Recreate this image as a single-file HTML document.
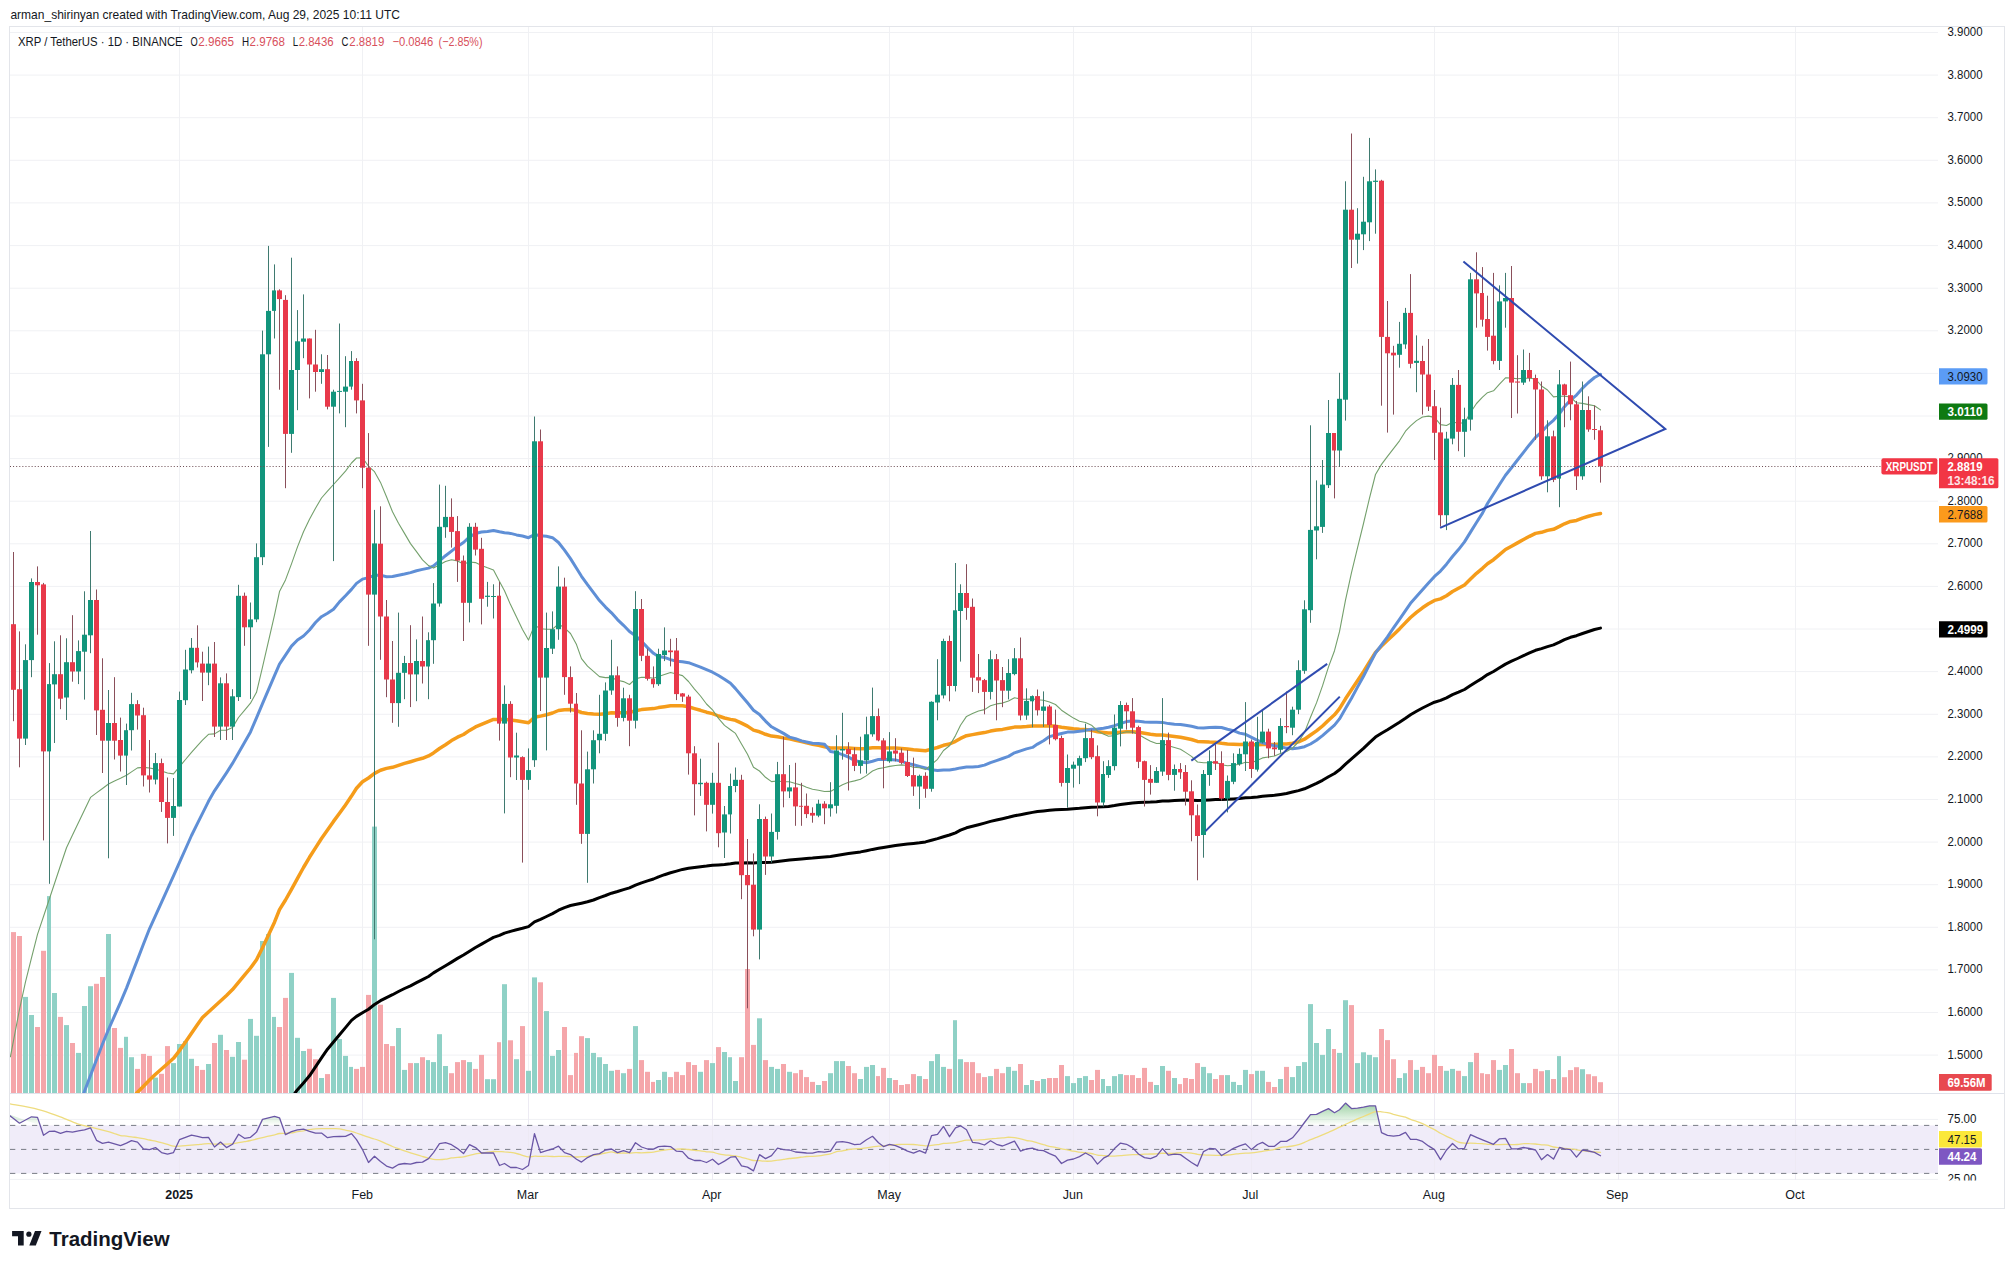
<!DOCTYPE html>
<html><head><meta charset="utf-8"><style>
html,body{margin:0;padding:0;background:#ffffff;}
body{width:2014px;height:1269px;position:relative;overflow:hidden;font-family:"Liberation Sans",sans-serif;}
</style></head><body>
<svg width="2014" height="1269" viewBox="0 0 2014 1269" style="position:absolute;left:0;top:0"><defs><clipPath id="mainclip"><rect x="10" y="27" width="1928" height="1066.5"/></clipPath><clipPath id="rsiclip"><rect x="10" y="1094" width="1928" height="86"/></clipPath><clipPath id="rsiax"><rect x="1938" y="1094" width="66" height="86.5"/></clipPath><linearGradient id="obg" gradientUnits="userSpaceOnUse" x1="0" y1="1089.4" x2="0" y2="1125.4"><stop offset="0" stop-color="#3f9f55" stop-opacity="0.85"/><stop offset="1" stop-color="#4caf50" stop-opacity="0"/></linearGradient></defs><line x1="10" x2="1938" y1="32.5" y2="32.5" stroke="#f0f1f4" stroke-width="1"/><line x1="10" x2="1938" y1="75.1" y2="75.1" stroke="#f0f1f4" stroke-width="1"/><line x1="10" x2="1938" y1="117.7" y2="117.7" stroke="#f0f1f4" stroke-width="1"/><line x1="10" x2="1938" y1="160.3" y2="160.3" stroke="#f0f1f4" stroke-width="1"/><line x1="10" x2="1938" y1="202.9" y2="202.9" stroke="#f0f1f4" stroke-width="1"/><line x1="10" x2="1938" y1="245.6" y2="245.6" stroke="#f0f1f4" stroke-width="1"/><line x1="10" x2="1938" y1="288.2" y2="288.2" stroke="#f0f1f4" stroke-width="1"/><line x1="10" x2="1938" y1="330.8" y2="330.8" stroke="#f0f1f4" stroke-width="1"/><line x1="10" x2="1938" y1="373.4" y2="373.4" stroke="#f0f1f4" stroke-width="1"/><line x1="10" x2="1938" y1="416.0" y2="416.0" stroke="#f0f1f4" stroke-width="1"/><line x1="10" x2="1938" y1="458.6" y2="458.6" stroke="#f0f1f4" stroke-width="1"/><line x1="10" x2="1938" y1="501.2" y2="501.2" stroke="#f0f1f4" stroke-width="1"/><line x1="10" x2="1938" y1="543.8" y2="543.8" stroke="#f0f1f4" stroke-width="1"/><line x1="10" x2="1938" y1="586.4" y2="586.4" stroke="#f0f1f4" stroke-width="1"/><line x1="10" x2="1938" y1="629.0" y2="629.0" stroke="#f0f1f4" stroke-width="1"/><line x1="10" x2="1938" y1="671.6" y2="671.6" stroke="#f0f1f4" stroke-width="1"/><line x1="10" x2="1938" y1="714.3" y2="714.3" stroke="#f0f1f4" stroke-width="1"/><line x1="10" x2="1938" y1="756.9" y2="756.9" stroke="#f0f1f4" stroke-width="1"/><line x1="10" x2="1938" y1="799.5" y2="799.5" stroke="#f0f1f4" stroke-width="1"/><line x1="10" x2="1938" y1="842.1" y2="842.1" stroke="#f0f1f4" stroke-width="1"/><line x1="10" x2="1938" y1="884.7" y2="884.7" stroke="#f0f1f4" stroke-width="1"/><line x1="10" x2="1938" y1="927.3" y2="927.3" stroke="#f0f1f4" stroke-width="1"/><line x1="10" x2="1938" y1="969.9" y2="969.9" stroke="#f0f1f4" stroke-width="1"/><line x1="10" x2="1938" y1="1012.5" y2="1012.5" stroke="#f0f1f4" stroke-width="1"/><line x1="10" x2="1938" y1="1055.1" y2="1055.1" stroke="#f0f1f4" stroke-width="1"/><line x1="179.5" x2="179.5" y1="27" y2="1180" stroke="#f0f1f4" stroke-width="1"/><line x1="362.5" x2="362.5" y1="27" y2="1180" stroke="#f0f1f4" stroke-width="1"/><line x1="528.5" x2="528.5" y1="27" y2="1180" stroke="#f0f1f4" stroke-width="1"/><line x1="712.5" x2="712.5" y1="27" y2="1180" stroke="#f0f1f4" stroke-width="1"/><line x1="889.5" x2="889.5" y1="27" y2="1180" stroke="#f0f1f4" stroke-width="1"/><line x1="1073.5" x2="1073.5" y1="27" y2="1180" stroke="#f0f1f4" stroke-width="1"/><line x1="1251.5" x2="1251.5" y1="27" y2="1180" stroke="#f0f1f4" stroke-width="1"/><line x1="1434.5" x2="1434.5" y1="27" y2="1180" stroke="#f0f1f4" stroke-width="1"/><line x1="1618.5" x2="1618.5" y1="27" y2="1180" stroke="#f0f1f4" stroke-width="1"/><line x1="1795.5" x2="1795.5" y1="27" y2="1180" stroke="#f0f1f4" stroke-width="1"/><g clip-path="url(#mainclip)"><rect x="11" y="932.1" width="5" height="160.9" fill="#f5a6aa"/><rect x="17" y="936.0" width="5" height="157.0" fill="#f5a6aa"/><rect x="23" y="996.9" width="5" height="96.1" fill="#8fd1c6"/><rect x="29" y="1015.0" width="5" height="78.0" fill="#8fd1c6"/><rect x="35" y="1027.0" width="5" height="66.0" fill="#f5a6aa"/><rect x="41" y="950.8" width="5" height="142.2" fill="#f5a6aa"/><rect x="47" y="896.1" width="4" height="196.9" fill="#8fd1c6"/><rect x="52" y="993.0" width="5" height="100.0" fill="#8fd1c6"/><rect x="58" y="1016.9" width="5" height="76.1" fill="#f5a6aa"/><rect x="64" y="1025.1" width="5" height="67.9" fill="#8fd1c6"/><rect x="70" y="1043.0" width="5" height="50.0" fill="#f5a6aa"/><rect x="76" y="1052.9" width="5" height="40.1" fill="#8fd1c6"/><rect x="82" y="1006.0" width="5" height="87.0" fill="#8fd1c6"/><rect x="88" y="986.2" width="5" height="106.8" fill="#8fd1c6"/><rect x="94" y="983.8" width="5" height="109.2" fill="#f5a6aa"/><rect x="100" y="977.0" width="5" height="116.0" fill="#f5a6aa"/><rect x="106" y="934.0" width="5" height="159.0" fill="#8fd1c6"/><rect x="112" y="1028.0" width="5" height="65.0" fill="#f5a6aa"/><rect x="118" y="1047.9" width="5" height="45.1" fill="#f5a6aa"/><rect x="124" y="1036.8" width="4" height="56.2" fill="#8fd1c6"/><rect x="129" y="1057.2" width="5" height="35.8" fill="#8fd1c6"/><rect x="135" y="1068.9" width="5" height="24.1" fill="#f5a6aa"/><rect x="141" y="1053.9" width="5" height="39.1" fill="#f5a6aa"/><rect x="147" y="1055.9" width="5" height="37.1" fill="#f5a6aa"/><rect x="153" y="1077.6" width="5" height="15.4" fill="#8fd1c6"/><rect x="159" y="1073.8" width="5" height="19.2" fill="#f5a6aa"/><rect x="165" y="1046.1" width="5" height="46.9" fill="#f5a6aa"/><rect x="171" y="1063.1" width="5" height="29.9" fill="#8fd1c6"/><rect x="177" y="1044.0" width="5" height="49.0" fill="#8fd1c6"/><rect x="183" y="1041.1" width="5" height="51.9" fill="#8fd1c6"/><rect x="189" y="1058.8" width="5" height="34.2" fill="#8fd1c6"/><rect x="195" y="1066.0" width="4" height="27.0" fill="#f5a6aa"/><rect x="200" y="1069.9" width="5" height="23.1" fill="#f5a6aa"/><rect x="206" y="1064.0" width="5" height="29.0" fill="#8fd1c6"/><rect x="212" y="1043.0" width="5" height="50.0" fill="#f5a6aa"/><rect x="218" y="1034.8" width="5" height="58.2" fill="#8fd1c6"/><rect x="224" y="1050.0" width="5" height="43.0" fill="#f5a6aa"/><rect x="230" y="1056.8" width="5" height="36.2" fill="#8fd1c6"/><rect x="236" y="1042.0" width="5" height="51.0" fill="#8fd1c6"/><rect x="242" y="1059.7" width="5" height="33.3" fill="#f5a6aa"/><rect x="248" y="1018.9" width="5" height="74.1" fill="#8fd1c6"/><rect x="254" y="1035.8" width="5" height="57.2" fill="#8fd1c6"/><rect x="260" y="941.0" width="5" height="152.0" fill="#8fd1c6"/><rect x="266" y="934.0" width="5" height="159.0" fill="#8fd1c6"/><rect x="272" y="1016.9" width="4" height="76.1" fill="#8fd1c6"/><rect x="277" y="1027.0" width="5" height="66.0" fill="#f5a6aa"/><rect x="283" y="997.9" width="5" height="95.1" fill="#f5a6aa"/><rect x="289" y="972.9" width="5" height="120.1" fill="#8fd1c6"/><rect x="295" y="1037.8" width="5" height="55.2" fill="#8fd1c6"/><rect x="301" y="1051.0" width="5" height="42.0" fill="#8fd1c6"/><rect x="307" y="1048.8" width="5" height="44.2" fill="#f5a6aa"/><rect x="313" y="1059.2" width="5" height="33.8" fill="#f5a6aa"/><rect x="319" y="1078.0" width="5" height="15.0" fill="#8fd1c6"/><rect x="325" y="1074.1" width="5" height="18.9" fill="#f5a6aa"/><rect x="331" y="997.9" width="5" height="95.1" fill="#8fd1c6"/><rect x="337" y="1039.1" width="5" height="53.9" fill="#8fd1c6"/><rect x="343" y="1055.9" width="5" height="37.1" fill="#8fd1c6"/><rect x="349" y="1066.9" width="4" height="26.1" fill="#8fd1c6"/><rect x="354" y="1068.9" width="5" height="24.1" fill="#f5a6aa"/><rect x="360" y="1066.9" width="5" height="26.1" fill="#f5a6aa"/><rect x="366" y="994.9" width="5" height="98.1" fill="#f5a6aa"/><rect x="372" y="826.6" width="5" height="266.4" fill="#8fd1c6"/><rect x="378" y="1004.7" width="5" height="88.3" fill="#f5a6aa"/><rect x="384" y="1044.0" width="5" height="49.0" fill="#f5a6aa"/><rect x="390" y="1046.1" width="5" height="46.9" fill="#f5a6aa"/><rect x="396" y="1028.0" width="5" height="65.0" fill="#8fd1c6"/><rect x="402" y="1069.9" width="5" height="23.1" fill="#8fd1c6"/><rect x="408" y="1063.1" width="5" height="29.9" fill="#f5a6aa"/><rect x="414" y="1063.1" width="5" height="29.9" fill="#8fd1c6"/><rect x="420" y="1057.2" width="5" height="35.8" fill="#f5a6aa"/><rect x="426" y="1060.1" width="4" height="32.9" fill="#8fd1c6"/><rect x="431" y="1062.1" width="5" height="30.9" fill="#8fd1c6"/><rect x="437" y="1034.2" width="5" height="58.8" fill="#8fd1c6"/><rect x="443" y="1066.0" width="5" height="27.0" fill="#8fd1c6"/><rect x="449" y="1073.2" width="5" height="19.8" fill="#f5a6aa"/><rect x="455" y="1062.1" width="5" height="30.9" fill="#f5a6aa"/><rect x="461" y="1060.1" width="5" height="32.9" fill="#f5a6aa"/><rect x="467" y="1062.1" width="5" height="30.9" fill="#8fd1c6"/><rect x="473" y="1068.9" width="5" height="24.1" fill="#f5a6aa"/><rect x="479" y="1054.9" width="5" height="38.1" fill="#f5a6aa"/><rect x="485" y="1079.2" width="5" height="13.8" fill="#8fd1c6"/><rect x="491" y="1079.2" width="5" height="13.8" fill="#8fd1c6"/><rect x="497" y="1042.2" width="4" height="50.8" fill="#f5a6aa"/><rect x="502" y="984.2" width="5" height="108.8" fill="#8fd1c6"/><rect x="508" y="1040.3" width="5" height="52.7" fill="#f5a6aa"/><rect x="514" y="1059.2" width="5" height="33.8" fill="#8fd1c6"/><rect x="520" y="1026.1" width="5" height="66.9" fill="#f5a6aa"/><rect x="526" y="1070.8" width="5" height="22.2" fill="#8fd1c6"/><rect x="532" y="977.4" width="5" height="115.6" fill="#8fd1c6"/><rect x="538" y="982.3" width="5" height="110.7" fill="#f5a6aa"/><rect x="544" y="1011.1" width="5" height="81.9" fill="#8fd1c6"/><rect x="550" y="1055.9" width="5" height="37.1" fill="#8fd1c6"/><rect x="556" y="1050.0" width="5" height="43.0" fill="#8fd1c6"/><rect x="562" y="1027.0" width="5" height="66.0" fill="#f5a6aa"/><rect x="568" y="1075.1" width="5" height="17.9" fill="#f5a6aa"/><rect x="574" y="1052.9" width="4" height="40.1" fill="#f5a6aa"/><rect x="579" y="1036.2" width="5" height="56.8" fill="#f5a6aa"/><rect x="585" y="1038.1" width="5" height="54.9" fill="#8fd1c6"/><rect x="591" y="1052.9" width="5" height="40.1" fill="#8fd1c6"/><rect x="597" y="1057.2" width="5" height="35.8" fill="#8fd1c6"/><rect x="603" y="1064.0" width="5" height="29.0" fill="#8fd1c6"/><rect x="609" y="1070.8" width="5" height="22.2" fill="#8fd1c6"/><rect x="615" y="1069.9" width="5" height="23.1" fill="#f5a6aa"/><rect x="621" y="1073.2" width="5" height="19.8" fill="#8fd1c6"/><rect x="627" y="1068.9" width="5" height="24.1" fill="#f5a6aa"/><rect x="633" y="1026.1" width="5" height="66.9" fill="#8fd1c6"/><rect x="639" y="1060.1" width="5" height="32.9" fill="#f5a6aa"/><rect x="645" y="1071.8" width="5" height="21.2" fill="#f5a6aa"/><rect x="651" y="1081.9" width="4" height="11.1" fill="#f5a6aa"/><rect x="656" y="1080.0" width="5" height="13.0" fill="#8fd1c6"/><rect x="662" y="1071.8" width="5" height="21.2" fill="#8fd1c6"/><rect x="668" y="1077.1" width="5" height="15.9" fill="#f5a6aa"/><rect x="674" y="1071.8" width="5" height="21.2" fill="#f5a6aa"/><rect x="680" y="1075.1" width="5" height="17.9" fill="#f5a6aa"/><rect x="686" y="1062.1" width="5" height="30.9" fill="#f5a6aa"/><rect x="692" y="1065.0" width="5" height="28.0" fill="#f5a6aa"/><rect x="698" y="1071.8" width="5" height="21.2" fill="#8fd1c6"/><rect x="704" y="1060.1" width="5" height="32.9" fill="#f5a6aa"/><rect x="710" y="1063.1" width="5" height="29.9" fill="#8fd1c6"/><rect x="716" y="1047.1" width="5" height="45.9" fill="#f5a6aa"/><rect x="722" y="1052.0" width="5" height="41.0" fill="#8fd1c6"/><rect x="728" y="1057.2" width="4" height="35.8" fill="#8fd1c6"/><rect x="733" y="1081.0" width="5" height="12.0" fill="#8fd1c6"/><rect x="739" y="1057.2" width="5" height="35.8" fill="#f5a6aa"/><rect x="745" y="969.0" width="5" height="124.0" fill="#f5a6aa"/><rect x="751" y="1044.9" width="5" height="48.1" fill="#f5a6aa"/><rect x="757" y="1018.3" width="5" height="74.7" fill="#8fd1c6"/><rect x="763" y="1060.1" width="5" height="32.9" fill="#f5a6aa"/><rect x="769" y="1066.9" width="5" height="26.1" fill="#8fd1c6"/><rect x="775" y="1068.9" width="5" height="24.1" fill="#8fd1c6"/><rect x="781" y="1064.0" width="5" height="29.0" fill="#f5a6aa"/><rect x="787" y="1071.8" width="5" height="21.2" fill="#8fd1c6"/><rect x="793" y="1073.2" width="5" height="19.8" fill="#f5a6aa"/><rect x="799" y="1069.9" width="4" height="23.1" fill="#f5a6aa"/><rect x="804" y="1077.1" width="5" height="15.9" fill="#f5a6aa"/><rect x="810" y="1081.9" width="5" height="11.1" fill="#f5a6aa"/><rect x="816" y="1085.0" width="5" height="8.0" fill="#8fd1c6"/><rect x="822" y="1081.0" width="5" height="12.0" fill="#f5a6aa"/><rect x="828" y="1073.2" width="5" height="19.8" fill="#8fd1c6"/><rect x="834" y="1061.1" width="5" height="31.9" fill="#8fd1c6"/><rect x="840" y="1061.1" width="5" height="31.9" fill="#8fd1c6"/><rect x="846" y="1066.0" width="5" height="27.0" fill="#f5a6aa"/><rect x="852" y="1073.2" width="5" height="19.8" fill="#f5a6aa"/><rect x="858" y="1079.0" width="5" height="14.0" fill="#8fd1c6"/><rect x="864" y="1066.9" width="5" height="26.1" fill="#8fd1c6"/><rect x="870" y="1065.0" width="5" height="28.0" fill="#8fd1c6"/><rect x="876" y="1076.1" width="4" height="16.9" fill="#f5a6aa"/><rect x="881" y="1067.9" width="5" height="25.1" fill="#f5a6aa"/><rect x="887" y="1078.0" width="5" height="15.0" fill="#8fd1c6"/><rect x="893" y="1080.0" width="5" height="13.0" fill="#f5a6aa"/><rect x="899" y="1085.0" width="5" height="8.0" fill="#f5a6aa"/><rect x="905" y="1084.1" width="5" height="8.9" fill="#f5a6aa"/><rect x="911" y="1074.1" width="5" height="18.9" fill="#f5a6aa"/><rect x="917" y="1076.1" width="5" height="16.9" fill="#8fd1c6"/><rect x="923" y="1079.0" width="5" height="14.0" fill="#f5a6aa"/><rect x="929" y="1061.1" width="5" height="31.9" fill="#8fd1c6"/><rect x="935" y="1054.1" width="5" height="38.9" fill="#8fd1c6"/><rect x="941" y="1066.9" width="5" height="26.1" fill="#8fd1c6"/><rect x="947" y="1068.9" width="5" height="24.1" fill="#f5a6aa"/><rect x="953" y="1020.2" width="4" height="72.8" fill="#8fd1c6"/><rect x="958" y="1059.2" width="5" height="33.8" fill="#8fd1c6"/><rect x="964" y="1062.1" width="5" height="30.9" fill="#f5a6aa"/><rect x="970" y="1062.1" width="5" height="30.9" fill="#f5a6aa"/><rect x="976" y="1073.2" width="5" height="19.8" fill="#f5a6aa"/><rect x="982" y="1077.1" width="5" height="15.9" fill="#f5a6aa"/><rect x="988" y="1076.1" width="5" height="16.9" fill="#8fd1c6"/><rect x="994" y="1068.9" width="5" height="24.1" fill="#f5a6aa"/><rect x="1000" y="1073.2" width="5" height="19.8" fill="#f5a6aa"/><rect x="1006" y="1066.9" width="5" height="26.1" fill="#8fd1c6"/><rect x="1012" y="1070.8" width="5" height="22.2" fill="#8fd1c6"/><rect x="1018" y="1064.0" width="5" height="29.0" fill="#f5a6aa"/><rect x="1024" y="1085.0" width="5" height="8.0" fill="#8fd1c6"/><rect x="1030" y="1080.0" width="4" height="13.0" fill="#8fd1c6"/><rect x="1035" y="1081.0" width="5" height="12.0" fill="#f5a6aa"/><rect x="1041" y="1079.0" width="5" height="14.0" fill="#8fd1c6"/><rect x="1047" y="1078.0" width="5" height="15.0" fill="#f5a6aa"/><rect x="1053" y="1078.0" width="5" height="15.0" fill="#f5a6aa"/><rect x="1059" y="1065.0" width="5" height="28.0" fill="#f5a6aa"/><rect x="1065" y="1076.1" width="5" height="16.9" fill="#8fd1c6"/><rect x="1071" y="1083.1" width="5" height="9.9" fill="#8fd1c6"/><rect x="1077" y="1078.0" width="5" height="15.0" fill="#8fd1c6"/><rect x="1083" y="1076.1" width="5" height="16.9" fill="#8fd1c6"/><rect x="1089" y="1080.0" width="5" height="13.0" fill="#f5a6aa"/><rect x="1095" y="1069.9" width="5" height="23.1" fill="#f5a6aa"/><rect x="1101" y="1079.0" width="4" height="14.0" fill="#8fd1c6"/><rect x="1106" y="1086.0" width="5" height="7.0" fill="#8fd1c6"/><rect x="1112" y="1076.1" width="5" height="16.9" fill="#8fd1c6"/><rect x="1118" y="1074.1" width="5" height="18.9" fill="#8fd1c6"/><rect x="1124" y="1075.1" width="5" height="17.9" fill="#f5a6aa"/><rect x="1130" y="1075.1" width="5" height="17.9" fill="#f5a6aa"/><rect x="1136" y="1078.0" width="5" height="15.0" fill="#f5a6aa"/><rect x="1142" y="1067.9" width="5" height="25.1" fill="#f5a6aa"/><rect x="1148" y="1081.9" width="5" height="11.1" fill="#f5a6aa"/><rect x="1154" y="1085.0" width="5" height="8.0" fill="#8fd1c6"/><rect x="1160" y="1066.0" width="5" height="27.0" fill="#8fd1c6"/><rect x="1166" y="1070.8" width="5" height="22.2" fill="#f5a6aa"/><rect x="1172" y="1078.0" width="5" height="15.0" fill="#8fd1c6"/><rect x="1178" y="1084.1" width="4" height="8.9" fill="#f5a6aa"/><rect x="1183" y="1078.0" width="5" height="15.0" fill="#f5a6aa"/><rect x="1189" y="1079.0" width="5" height="14.0" fill="#f5a6aa"/><rect x="1195" y="1063.1" width="5" height="29.9" fill="#f5a6aa"/><rect x="1201" y="1066.9" width="5" height="26.1" fill="#8fd1c6"/><rect x="1207" y="1073.2" width="5" height="19.8" fill="#8fd1c6"/><rect x="1213" y="1079.0" width="5" height="14.0" fill="#f5a6aa"/><rect x="1219" y="1075.1" width="5" height="17.9" fill="#f5a6aa"/><rect x="1225" y="1075.1" width="5" height="17.9" fill="#8fd1c6"/><rect x="1231" y="1081.9" width="5" height="11.1" fill="#8fd1c6"/><rect x="1237" y="1085.0" width="5" height="8.0" fill="#8fd1c6"/><rect x="1243" y="1069.9" width="5" height="23.1" fill="#8fd1c6"/><rect x="1249" y="1074.1" width="5" height="18.9" fill="#f5a6aa"/><rect x="1255" y="1070.8" width="4" height="22.2" fill="#8fd1c6"/><rect x="1260" y="1070.8" width="5" height="22.2" fill="#8fd1c6"/><rect x="1266" y="1081.9" width="5" height="11.1" fill="#f5a6aa"/><rect x="1272" y="1087.0" width="5" height="6.0" fill="#f5a6aa"/><rect x="1278" y="1079.0" width="5" height="14.0" fill="#8fd1c6"/><rect x="1284" y="1066.9" width="5" height="26.1" fill="#f5a6aa"/><rect x="1290" y="1077.1" width="5" height="15.9" fill="#8fd1c6"/><rect x="1296" y="1066.0" width="5" height="27.0" fill="#8fd1c6"/><rect x="1302" y="1062.1" width="5" height="30.9" fill="#8fd1c6"/><rect x="1308" y="1004.1" width="5" height="88.9" fill="#8fd1c6"/><rect x="1314" y="1043.0" width="5" height="50.0" fill="#8fd1c6"/><rect x="1320" y="1054.9" width="5" height="38.1" fill="#8fd1c6"/><rect x="1326" y="1029.0" width="5" height="64.0" fill="#8fd1c6"/><rect x="1332" y="1049.0" width="4" height="44.0" fill="#f5a6aa"/><rect x="1337" y="1052.9" width="5" height="40.1" fill="#8fd1c6"/><rect x="1343" y="1000.2" width="5" height="92.8" fill="#8fd1c6"/><rect x="1349" y="1005.1" width="5" height="87.9" fill="#f5a6aa"/><rect x="1355" y="1063.1" width="5" height="29.9" fill="#8fd1c6"/><rect x="1361" y="1052.3" width="5" height="40.7" fill="#8fd1c6"/><rect x="1367" y="1054.9" width="5" height="38.1" fill="#8fd1c6"/><rect x="1373" y="1057.2" width="5" height="35.8" fill="#8fd1c6"/><rect x="1379" y="1029.0" width="5" height="64.0" fill="#f5a6aa"/><rect x="1385" y="1040.1" width="5" height="52.9" fill="#f5a6aa"/><rect x="1391" y="1059.2" width="5" height="33.8" fill="#f5a6aa"/><rect x="1397" y="1078.0" width="5" height="15.0" fill="#8fd1c6"/><rect x="1403" y="1073.2" width="4" height="19.8" fill="#8fd1c6"/><rect x="1408" y="1060.1" width="5" height="32.9" fill="#f5a6aa"/><rect x="1414" y="1069.9" width="5" height="23.1" fill="#8fd1c6"/><rect x="1420" y="1066.9" width="5" height="26.1" fill="#f5a6aa"/><rect x="1426" y="1073.2" width="5" height="19.8" fill="#f5a6aa"/><rect x="1432" y="1054.9" width="5" height="38.1" fill="#f5a6aa"/><rect x="1438" y="1066.0" width="5" height="27.0" fill="#f5a6aa"/><rect x="1444" y="1070.8" width="5" height="22.2" fill="#8fd1c6"/><rect x="1450" y="1068.9" width="5" height="24.1" fill="#8fd1c6"/><rect x="1456" y="1070.8" width="5" height="22.2" fill="#f5a6aa"/><rect x="1462" y="1076.1" width="5" height="16.9" fill="#8fd1c6"/><rect x="1468" y="1062.1" width="5" height="30.9" fill="#8fd1c6"/><rect x="1474" y="1052.9" width="5" height="40.1" fill="#f5a6aa"/><rect x="1480" y="1073.2" width="4" height="19.8" fill="#f5a6aa"/><rect x="1485" y="1074.1" width="5" height="18.9" fill="#f5a6aa"/><rect x="1491" y="1060.1" width="5" height="32.9" fill="#f5a6aa"/><rect x="1497" y="1069.9" width="5" height="23.1" fill="#8fd1c6"/><rect x="1503" y="1065.0" width="5" height="28.0" fill="#8fd1c6"/><rect x="1509" y="1049.0" width="5" height="44.0" fill="#f5a6aa"/><rect x="1515" y="1073.2" width="5" height="19.8" fill="#f5a6aa"/><rect x="1521" y="1083.1" width="5" height="9.9" fill="#8fd1c6"/><rect x="1527" y="1083.1" width="5" height="9.9" fill="#f5a6aa"/><rect x="1533" y="1068.9" width="5" height="24.1" fill="#f5a6aa"/><rect x="1539" y="1071.2" width="5" height="21.8" fill="#f5a6aa"/><rect x="1545" y="1070.1" width="5" height="22.9" fill="#8fd1c6"/><rect x="1551" y="1079.0" width="5" height="14.0" fill="#f5a6aa"/><rect x="1557" y="1056.1" width="4" height="36.9" fill="#8fd1c6"/><rect x="1562" y="1077.2" width="5" height="15.8" fill="#f5a6aa"/><rect x="1568" y="1070.1" width="5" height="22.9" fill="#f5a6aa"/><rect x="1574" y="1067.2" width="5" height="25.8" fill="#f5a6aa"/><rect x="1580" y="1069.2" width="5" height="23.8" fill="#8fd1c6"/><rect x="1586" y="1074.2" width="5" height="18.8" fill="#f5a6aa"/><rect x="1592" y="1076.2" width="5" height="16.8" fill="#f5a6aa"/><rect x="1598" y="1082.2" width="5" height="10.8" fill="#f5a6aa"/><polyline points="295.0,1093.0 297.5,1089.7 303.5,1082.9 309.5,1075.8 315.5,1066.8 321.5,1057.9 327.5,1049.2 333.5,1042.0 339.5,1034.8 345.5,1027.6 351.5,1020.4 356.5,1016.4 362.5,1012.8 368.5,1009.2 374.5,1004.5 380.5,1000.7 386.5,997.6 392.5,994.7 398.5,991.5 404.5,988.5 410.5,985.8 416.5,982.7 422.5,979.6 428.5,976.5 433.5,972.9 439.5,969.3 445.5,965.7 451.5,962.1 457.5,958.4 463.5,955.0 469.5,951.3 475.5,947.5 481.5,944.1 487.5,940.8 493.5,937.4 499.5,935.4 504.5,933.1 510.5,931.4 516.5,929.7 522.5,928.3 528.5,926.6 534.5,921.8 540.5,919.3 546.5,916.5 552.5,913.6 558.5,910.2 564.5,907.6 570.5,905.5 576.5,904.3 581.5,903.2 587.5,901.8 593.5,900.0 599.5,897.6 605.5,895.5 611.5,893.2 617.5,891.5 623.5,889.6 629.5,887.9 635.5,885.2 641.5,882.9 647.5,880.9 653.5,879.0 658.5,876.8 664.5,874.7 670.5,872.8 676.5,871.1 682.5,869.4 688.5,868.3 694.5,867.5 700.5,866.7 706.5,866.1 712.5,865.3 718.5,865.0 724.5,864.6 730.5,863.8 735.5,862.9 741.5,863.0 747.5,862.7 753.5,863.0 759.5,862.6 765.5,862.5 771.5,862.2 777.5,861.4 783.5,860.7 789.5,860.0 795.5,859.4 801.5,858.9 806.5,858.5 812.5,858.1 818.5,857.5 824.5,857.1 830.5,856.6 836.5,855.6 842.5,854.5 848.5,853.6 854.5,852.7 860.5,851.9 866.5,850.7 872.5,849.4 878.5,848.3 883.5,847.4 889.5,846.4 895.5,845.5 901.5,844.7 907.5,844.1 913.5,843.5 919.5,842.8 925.5,841.9 931.5,840.2 937.5,838.6 943.5,836.7 949.5,835.0 955.5,832.8 960.5,830.2 966.5,827.8 972.5,826.2 978.5,824.7 984.5,823.1 990.5,821.4 996.5,820.0 1002.5,818.7 1008.5,817.3 1014.5,815.7 1020.5,814.7 1026.5,813.6 1032.5,812.4 1037.5,811.5 1043.5,810.9 1049.5,810.3 1055.5,809.7 1061.5,809.5 1067.5,809.2 1073.5,808.7 1079.5,808.3 1085.5,807.7 1091.5,807.2 1097.5,807.1 1103.5,806.8 1108.5,806.4 1114.5,805.6 1120.5,804.6 1126.5,803.7 1132.5,803.0 1138.5,802.6 1144.5,802.3 1150.5,802.1 1156.5,801.7 1162.5,801.1 1168.5,800.9 1174.5,800.5 1180.5,800.2 1185.5,800.1 1191.5,800.2 1197.5,800.5 1203.5,800.3 1209.5,799.9 1215.5,799.6 1221.5,799.5 1227.5,799.3 1233.5,798.9 1239.5,798.4 1245.5,797.8 1251.5,797.6 1257.5,797.0 1262.5,796.3 1268.5,795.8 1274.5,795.2 1280.5,794.4 1286.5,793.5 1292.5,792.0 1298.5,790.6 1304.5,788.8 1310.5,786.1 1316.5,783.3 1322.5,780.3 1328.5,776.8 1334.5,773.5 1339.5,769.8 1345.5,764.2 1351.5,758.9 1357.5,753.7 1363.5,748.4 1369.5,742.7 1375.5,737.1 1381.5,733.2 1387.5,729.7 1393.5,726.0 1399.5,722.3 1405.5,718.3 1410.5,714.8 1416.5,711.3 1422.5,708.0 1428.5,705.0 1434.5,702.2 1440.5,700.4 1446.5,697.8 1452.5,694.7 1458.5,692.2 1464.5,689.5 1470.5,685.5 1476.5,681.7 1482.5,678.1 1487.5,674.6 1493.5,671.5 1499.5,667.8 1505.5,664.1 1511.5,661.2 1517.5,658.5 1523.5,655.7 1529.5,652.9 1535.5,650.3 1541.5,648.6 1547.5,646.6 1553.5,644.9 1559.5,642.2 1564.5,639.7 1570.5,637.3 1576.5,635.7 1582.5,633.5 1588.5,631.5 1594.5,629.5 1600.5,628.1" fill="none" stroke="#000000" stroke-width="3" stroke-linejoin="round" stroke-linecap="round" /><polyline points="136.5,1093.2 137.5,1092.2 143.5,1086.2 149.5,1080.1 155.5,1074.3 161.5,1069.0 167.5,1063.7 173.5,1058.3 179.5,1050.6 185.5,1041.9 191.5,1033.2 197.5,1024.5 202.5,1017.5 208.5,1012.0 214.5,1006.5 220.5,1001.0 226.5,995.5 232.5,989.6 238.5,982.4 244.5,975.2 250.5,968.0 256.5,959.8 262.5,947.8 268.5,935.1 274.5,922.2 279.5,909.6 285.5,900.0 291.5,889.3 297.5,878.3 303.5,867.5 309.5,857.3 315.5,847.9 321.5,838.5 327.5,830.1 333.5,821.4 339.5,813.3 345.5,804.9 351.5,796.1 356.5,788.2 362.5,781.7 368.5,778.0 374.5,773.4 380.5,770.2 386.5,768.4 392.5,767.3 398.5,765.4 404.5,763.4 410.5,761.7 416.5,759.9 422.5,758.3 428.5,755.9 433.5,752.9 439.5,748.5 445.5,744.8 451.5,740.6 457.5,737.2 463.5,734.5 469.5,730.4 475.5,726.9 481.5,724.4 487.5,721.8 493.5,719.4 499.5,719.5 504.5,719.2 510.5,720.0 516.5,720.7 522.5,721.8 528.5,722.8 534.5,717.3 540.5,716.1 546.5,714.8 552.5,713.0 558.5,710.5 564.5,709.7 570.5,709.5 576.5,710.6 581.5,712.5 587.5,713.4 593.5,713.9 599.5,714.2 605.5,713.7 611.5,712.8 617.5,712.9 623.5,712.6 629.5,712.7 635.5,710.7 641.5,709.6 647.5,709.0 653.5,708.6 658.5,707.6 664.5,706.7 670.5,705.8 676.5,705.7 682.5,705.7 688.5,706.8 694.5,708.6 700.5,710.3 706.5,712.2 712.5,713.6 718.5,716.0 724.5,718.0 730.5,719.4 735.5,720.3 741.5,723.1 747.5,726.1 753.5,730.1 759.5,731.8 765.5,734.3 771.5,736.1 777.5,736.8 783.5,737.9 789.5,738.8 795.5,740.2 801.5,741.5 806.5,742.9 812.5,744.2 818.5,745.4 824.5,746.8 830.5,747.9 836.5,748.0 842.5,748.0 848.5,748.1 854.5,748.4 860.5,748.7 866.5,748.4 872.5,747.8 878.5,747.7 883.5,747.9 889.5,748.0 895.5,748.1 901.5,748.4 907.5,748.9 913.5,749.7 919.5,750.2 925.5,750.8 931.5,749.1 937.5,747.5 943.5,745.3 949.5,744.0 955.5,741.3 960.5,738.4 966.5,735.7 972.5,734.6 978.5,733.5 984.5,732.6 990.5,731.1 996.5,730.1 1002.5,729.4 1008.5,728.2 1014.5,727.1 1020.5,726.9 1026.5,726.5 1032.5,725.9 1037.5,725.9 1043.5,725.9 1049.5,725.9 1055.5,726.1 1061.5,727.3 1067.5,728.1 1073.5,728.8 1079.5,729.3 1085.5,729.6 1091.5,730.2 1097.5,731.7 1103.5,732.5 1108.5,733.1 1114.5,732.8 1120.5,732.2 1126.5,731.8 1132.5,731.7 1138.5,732.3 1144.5,733.3 1150.5,734.2 1156.5,734.9 1162.5,735.0 1168.5,735.8 1174.5,736.5 1180.5,737.2 1185.5,738.2 1191.5,739.5 1197.5,741.4 1203.5,741.7 1209.5,742.1 1215.5,742.3 1221.5,743.3 1227.5,743.9 1233.5,744.2 1239.5,744.4 1245.5,744.3 1251.5,744.8 1257.5,744.7 1262.5,744.4 1268.5,744.5 1274.5,744.5 1280.5,744.1 1286.5,743.9 1292.5,743.2 1298.5,741.9 1304.5,739.2 1310.5,735.0 1316.5,730.9 1322.5,726.0 1328.5,720.2 1334.5,714.8 1339.5,708.7 1345.5,698.8 1351.5,689.8 1357.5,680.8 1363.5,671.7 1369.5,662.0 1375.5,652.4 1381.5,646.1 1387.5,640.3 1393.5,634.7 1399.5,628.9 1405.5,622.6 1410.5,617.5 1416.5,612.4 1422.5,607.8 1428.5,603.8 1434.5,600.4 1440.5,598.9 1446.5,595.7 1452.5,591.5 1458.5,588.3 1464.5,585.0 1470.5,579.0 1476.5,573.3 1482.5,568.3 1487.5,563.7 1493.5,559.7 1499.5,554.6 1505.5,549.5 1511.5,546.2 1517.5,542.9 1523.5,539.5 1529.5,536.3 1535.5,533.4 1541.5,532.3 1547.5,530.4 1553.5,529.3 1559.5,526.4 1564.5,523.8 1570.5,521.4 1576.5,520.4 1582.5,518.1 1588.5,516.3 1594.5,514.6 1600.5,513.5" fill="none" stroke="#f59c1a" stroke-width="3.5" stroke-linejoin="round" stroke-linecap="round" /><polyline points="83.1,1095.0 84.5,1091.3 90.5,1075.5 96.5,1059.8 102.5,1044.0 108.5,1029.5 114.5,1015.9 120.5,1002.4 126.5,988.1 131.5,975.1 137.5,959.6 143.5,944.0 149.5,928.8 155.5,915.6 161.5,902.4 167.5,889.2 173.5,875.9 179.5,862.4 185.5,849.0 191.5,835.5 197.5,823.3 202.5,813.3 208.5,801.3 214.5,790.8 220.5,781.8 226.5,772.8 232.5,763.4 238.5,752.9 244.5,742.4 250.5,731.9 256.5,717.8 262.5,703.7 268.5,689.7 274.5,675.7 279.5,664.1 285.5,655.1 291.5,646.1 297.5,640.0 303.5,636.0 309.5,630.0 315.5,622.5 321.5,616.7 327.5,613.2 333.5,609.3 339.5,601.9 345.5,595.8 351.5,589.4 356.5,583.4 362.5,579.1 368.5,577.6 374.5,575.4 380.5,575.1 386.5,576.7 392.5,576.5 398.5,575.2 404.5,574.0 410.5,572.6 416.5,570.7 422.5,569.4 428.5,568.1 433.5,565.9 439.5,560.9 445.5,555.7 451.5,551.1 457.5,546.4 463.5,542.5 469.5,536.9 475.5,533.5 481.5,532.0 487.5,531.6 493.5,530.5 499.5,531.8 504.5,532.7 510.5,533.4 516.5,534.9 522.5,536.0 528.5,537.7 534.5,534.6 540.5,535.7 546.5,536.2 552.5,537.7 558.5,542.5 564.5,550.2 570.5,558.6 576.5,568.3 581.5,576.3 587.5,584.7 593.5,592.7 599.5,600.6 605.5,607.1 611.5,612.8 617.5,619.6 623.5,625.3 629.5,631.5 635.5,635.8 641.5,641.2 647.5,647.6 653.5,653.3 658.5,656.5 664.5,657.4 670.5,659.6 676.5,661.2 682.5,661.7 688.5,662.7 694.5,664.9 700.5,667.1 706.5,669.7 712.5,672.2 718.5,675.5 724.5,679.2 730.5,683.3 735.5,688.6 741.5,695.7 747.5,702.8 753.5,710.2 759.5,714.5 765.5,721.1 771.5,726.8 777.5,730.1 783.5,733.4 789.5,737.1 795.5,738.7 801.5,740.9 806.5,742.0 812.5,743.2 818.5,743.6 824.5,744.3 830.5,751.5 836.5,752.6 842.5,754.6 848.5,757.1 854.5,760.4 860.5,762.0 866.5,762.7 872.5,761.3 878.5,759.4 883.5,759.3 889.5,759.5 895.5,759.9 901.5,761.4 907.5,763.4 913.5,764.8 919.5,766.4 925.5,767.9 931.5,769.8 937.5,770.6 943.5,769.9 949.5,769.9 955.5,769.0 960.5,767.9 966.5,767.1 972.5,767.0 978.5,766.5 984.5,765.1 990.5,762.6 996.5,760.6 1002.5,758.5 1008.5,756.4 1014.5,752.8 1020.5,750.8 1026.5,748.9 1032.5,747.4 1037.5,744.1 1043.5,740.7 1049.5,736.6 1055.5,735.0 1061.5,733.5 1067.5,732.1 1073.5,731.9 1079.5,731.2 1085.5,730.4 1091.5,729.2 1097.5,729.1 1103.5,728.2 1108.5,727.2 1114.5,725.7 1120.5,723.6 1126.5,721.6 1132.5,721.1 1138.5,721.3 1144.5,721.9 1150.5,722.2 1156.5,722.3 1162.5,722.4 1168.5,723.6 1174.5,724.2 1180.5,724.4 1185.5,725.2 1191.5,726.3 1197.5,727.8 1203.5,728.0 1209.5,727.5 1215.5,727.3 1221.5,727.5 1227.5,729.2 1233.5,730.7 1239.5,733.1 1245.5,734.3 1251.5,737.4 1257.5,740.4 1262.5,742.9 1268.5,744.4 1274.5,745.8 1280.5,746.7 1286.5,748.1 1292.5,748.7 1298.5,748.0 1304.5,746.7 1310.5,744.0 1316.5,740.3 1322.5,735.6 1328.5,730.3 1334.5,725.1 1339.5,718.9 1345.5,708.5 1351.5,698.2 1357.5,687.1 1363.5,676.2 1369.5,664.5 1375.5,653.0 1381.5,645.0 1387.5,636.9 1393.5,627.9 1399.5,619.4 1405.5,610.6 1410.5,603.3 1416.5,596.5 1422.5,589.7 1428.5,583.0 1434.5,576.4 1440.5,571.1 1446.5,564.2 1452.5,556.5 1458.5,549.6 1464.5,541.9 1470.5,532.1 1476.5,522.5 1482.5,513.1 1487.5,503.5 1493.5,494.0 1499.5,484.5 1505.5,475.3 1511.5,467.7 1517.5,460.0 1523.5,452.4 1529.5,444.7 1535.5,437.4 1541.5,432.1 1547.5,425.4 1553.5,420.3 1559.5,413.5 1564.5,406.7 1570.5,400.1 1576.5,395.1 1582.5,388.2 1588.5,382.5 1594.5,377.5 1600.5,374.3" fill="none" stroke="#5f8fd6" stroke-width="3" stroke-linejoin="round" stroke-linecap="round" /><polyline points="10.4,1056.8 13.5,1040.7 19.5,1009.4 25.5,981.8 31.5,957.9 37.5,934.4 43.5,916.5 49.5,898.5 54.5,883.5 60.5,865.5 66.5,847.8 72.5,835.1 78.5,822.5 84.5,809.9 90.5,797.4 96.5,792.9 102.5,788.5 108.5,784.0 114.5,780.9 120.5,778.3 126.5,775.2 131.5,771.9 137.5,767.9 143.5,767.4 149.5,768.0 155.5,769.1 161.5,771.0 167.5,773.0 173.5,773.9 179.5,766.7 185.5,759.5 191.5,752.3 197.5,745.7 202.5,740.2 208.5,734.3 214.5,733.9 220.5,730.3 226.5,730.2 232.5,727.6 238.5,717.5 244.5,710.4 250.5,703.2 256.5,692.3 262.5,667.2 268.5,641.1 274.5,615.1 279.5,591.6 285.5,579.9 291.5,563.9 297.5,546.9 303.5,531.7 309.5,519.3 315.5,508.3 321.5,498.0 327.5,491.1 333.5,484.5 339.5,477.9 345.5,471.1 351.5,463.0 356.5,458.0 362.5,457.8 368.5,466.3 374.5,471.7 380.5,482.4 386.5,496.8 392.5,511.8 398.5,523.3 404.5,533.4 410.5,543.6 416.5,551.6 422.5,559.9 428.5,565.6 433.5,568.1 439.5,564.8 445.5,561.5 451.5,559.8 457.5,560.9 463.5,564.0 469.5,562.0 475.5,562.6 481.5,565.4 487.5,567.8 493.5,570.0 499.5,581.5 504.5,590.7 510.5,604.6 516.5,617.0 522.5,629.4 528.5,640.1 534.5,625.1 540.5,628.7 546.5,629.2 552.5,629.1 558.5,624.0 564.5,627.9 570.5,633.5 576.5,644.6 581.5,658.6 587.5,666.2 593.5,671.4 599.5,676.6 605.5,677.6 611.5,677.4 617.5,680.3 623.5,681.6 629.5,684.5 635.5,678.9 641.5,677.2 647.5,677.4 653.5,678.2 658.5,676.4 664.5,674.5 670.5,672.5 676.5,674.0 682.5,675.6 688.5,681.5 694.5,689.1 700.5,696.0 706.5,704.0 712.5,709.8 718.5,718.4 724.5,725.4 730.5,729.8 735.5,733.4 741.5,743.9 747.5,754.3 753.5,767.2 759.5,771.0 765.5,777.3 771.5,781.6 777.5,781.0 783.5,781.8 789.5,781.7 795.5,783.5 801.5,785.1 806.5,787.2 812.5,789.2 818.5,790.2 824.5,791.5 830.5,791.4 836.5,788.1 842.5,784.7 848.5,782.2 854.5,780.9 860.5,779.2 866.5,775.6 872.5,771.0 878.5,768.6 883.5,767.7 889.5,766.4 895.5,765.5 901.5,764.9 907.5,765.5 913.5,767.2 919.5,767.7 925.5,769.6 931.5,764.5 937.5,759.3 943.5,750.5 949.5,745.7 955.5,735.6 960.5,725.2 966.5,716.4 972.5,713.5 978.5,711.0 984.5,709.6 990.5,705.8 996.5,703.9 1002.5,703.1 1008.5,700.9 1014.5,697.7 1020.5,699.1 1026.5,699.2 1032.5,698.9 1037.5,699.8 1043.5,700.2 1049.5,702.0 1055.5,704.5 1061.5,710.2 1067.5,714.2 1073.5,718.1 1079.5,721.3 1085.5,722.5 1091.5,725.2 1097.5,730.9 1103.5,734.0 1108.5,736.2 1114.5,735.6 1120.5,733.2 1126.5,731.8 1132.5,732.1 1138.5,734.5 1144.5,737.9 1150.5,741.2 1156.5,743.5 1162.5,743.4 1168.5,745.8 1174.5,747.5 1180.5,749.3 1185.5,752.4 1191.5,756.4 1197.5,762.0 1203.5,762.8 1209.5,762.6 1215.5,762.1 1221.5,764.7 1227.5,765.7 1233.5,765.2 1239.5,764.2 1245.5,762.3 1251.5,762.7 1257.5,760.2 1262.5,757.9 1268.5,757.0 1274.5,756.0 1280.5,753.5 1286.5,751.4 1292.5,748.0 1298.5,742.0 1304.5,732.4 1310.5,717.2 1316.5,702.9 1322.5,685.9 1328.5,666.9 1334.5,650.7 1339.5,631.7 1345.5,600.2 1351.5,572.7 1357.5,547.9 1363.5,523.5 1369.5,498.1 1375.5,474.5 1381.5,464.4 1387.5,456.4 1393.5,448.7 1399.5,440.8 1405.5,431.2 1410.5,425.9 1416.5,420.6 1422.5,417.0 1428.5,416.1 1434.5,417.4 1440.5,424.6 1446.5,425.5 1452.5,422.3 1458.5,423.0 1464.5,423.0 1470.5,412.5 1476.5,403.5 1482.5,397.2 1487.5,392.7 1493.5,390.8 1499.5,384.2 1505.5,377.8 1511.5,378.1 1517.5,378.7 1523.5,378.2 1529.5,378.2 1535.5,379.0 1541.5,386.0 1547.5,390.0 1553.5,396.9 1559.5,396.3 1564.5,396.3 1570.5,397.0 1576.5,402.8 1582.5,403.4 1588.5,404.6 1594.5,405.7 1600.5,409.9" fill="none" stroke="#74a06c" stroke-width="1.1" stroke-linejoin="round" stroke-linecap="round" /><line x1="13.5" x2="13.5" y1="552.0" y2="721.2" stroke="#8a4f5a" stroke-width="1"/><rect x="11" y="624.2" width="5" height="65.6" fill="#e8394a"/><line x1="19.5" x2="19.5" y1="631.4" y2="767.3" stroke="#8a4f5a" stroke-width="1"/><rect x="17" y="689.2" width="5" height="49.4" fill="#e8394a"/><line x1="25.5" x2="25.5" y1="644.3" y2="745.0" stroke="#3f7a70" stroke-width="1"/><rect x="23" y="660.1" width="5" height="78.5" fill="#12957c"/><line x1="31.5" x2="31.5" y1="578.4" y2="677.2" stroke="#3f7a70" stroke-width="1"/><rect x="29" y="582.0" width="5" height="78.1" fill="#12957c"/><line x1="37.5" x2="37.5" y1="566.4" y2="634.7" stroke="#8a4f5a" stroke-width="1"/><rect x="35" y="582.0" width="5" height="3.3" fill="#e8394a"/><line x1="43.5" x2="43.5" y1="582.9" y2="840.4" stroke="#8a4f5a" stroke-width="1"/><rect x="41" y="584.4" width="5" height="167.0" fill="#e8394a"/><line x1="49.5" x2="49.5" y1="663.1" y2="883.8" stroke="#3f7a70" stroke-width="1"/><rect x="47" y="684.1" width="4" height="67.3" fill="#12957c"/><line x1="54.5" x2="54.5" y1="641.3" y2="743.0" stroke="#3f7a70" stroke-width="1"/><rect x="52" y="674.2" width="5" height="10.2" fill="#12957c"/><line x1="60.5" x2="60.5" y1="635.3" y2="709.2" stroke="#8a4f5a" stroke-width="1"/><rect x="58" y="674.2" width="5" height="24.5" fill="#e8394a"/><line x1="66.5" x2="66.5" y1="638.3" y2="720.0" stroke="#3f7a70" stroke-width="1"/><rect x="64" y="662.2" width="5" height="35.3" fill="#12957c"/><line x1="72.5" x2="72.5" y1="615.2" y2="681.7" stroke="#8a4f5a" stroke-width="1"/><rect x="70" y="662.2" width="5" height="9.3" fill="#e8394a"/><line x1="78.5" x2="78.5" y1="640.4" y2="684.1" stroke="#3f7a70" stroke-width="1"/><rect x="76" y="651.1" width="5" height="20.4" fill="#12957c"/><line x1="84.5" x2="84.5" y1="591.3" y2="699.6" stroke="#3f7a70" stroke-width="1"/><rect x="82" y="634.7" width="5" height="17.0" fill="#12957c"/><line x1="90.5" x2="90.5" y1="531.0" y2="653.2" stroke="#3f7a70" stroke-width="1"/><rect x="88" y="600.0" width="5" height="35.3" fill="#12957c"/><line x1="96.5" x2="96.5" y1="589.5" y2="735.0" stroke="#8a4f5a" stroke-width="1"/><rect x="94" y="600.0" width="5" height="110.4" fill="#e8394a"/><line x1="102.5" x2="102.5" y1="658.3" y2="773.0" stroke="#8a4f5a" stroke-width="1"/><rect x="100" y="709.8" width="5" height="30.9" fill="#e8394a"/><line x1="108.5" x2="108.5" y1="690.0" y2="858.3" stroke="#3f7a70" stroke-width="1"/><rect x="106" y="723.0" width="5" height="17.7" fill="#12957c"/><line x1="114.5" x2="114.5" y1="677.2" y2="759.5" stroke="#8a4f5a" stroke-width="1"/><rect x="112" y="723.0" width="5" height="17.7" fill="#e8394a"/><line x1="120.5" x2="120.5" y1="717.6" y2="771.5" stroke="#8a4f5a" stroke-width="1"/><rect x="118" y="740.0" width="5" height="15.6" fill="#e8394a"/><line x1="126.5" x2="126.5" y1="723.6" y2="785.0" stroke="#3f7a70" stroke-width="1"/><rect x="124" y="730.2" width="4" height="25.4" fill="#12957c"/><line x1="131.5" x2="131.5" y1="692.8" y2="750.5" stroke="#3f7a70" stroke-width="1"/><rect x="129" y="704.1" width="5" height="26.1" fill="#12957c"/><line x1="137.5" x2="137.5" y1="700.2" y2="729.6" stroke="#8a4f5a" stroke-width="1"/><rect x="135" y="704.1" width="5" height="11.4" fill="#e8394a"/><line x1="143.5" x2="143.5" y1="707.7" y2="786.5" stroke="#8a4f5a" stroke-width="1"/><rect x="141" y="715.2" width="5" height="60.2" fill="#e8394a"/><line x1="149.5" x2="149.5" y1="740.0" y2="792.5" stroke="#8a4f5a" stroke-width="1"/><rect x="147" y="775.4" width="5" height="4.2" fill="#e8394a"/><line x1="155.5" x2="155.5" y1="753.0" y2="784.4" stroke="#3f7a70" stroke-width="1"/><rect x="153" y="763.1" width="5" height="16.5" fill="#12957c"/><line x1="161.5" x2="161.5" y1="758.6" y2="811.9" stroke="#8a4f5a" stroke-width="1"/><rect x="159" y="763.1" width="5" height="38.9" fill="#e8394a"/><line x1="167.5" x2="167.5" y1="777.5" y2="843.4" stroke="#8a4f5a" stroke-width="1"/><rect x="165" y="802.0" width="5" height="15.9" fill="#e8394a"/><line x1="173.5" x2="173.5" y1="778.0" y2="835.9" stroke="#3f7a70" stroke-width="1"/><rect x="171" y="806.0" width="5" height="11.9" fill="#12957c"/><line x1="179.5" x2="179.5" y1="691.6" y2="806.5" stroke="#3f7a70" stroke-width="1"/><rect x="177" y="700.0" width="5" height="106.5" fill="#12957c"/><line x1="185.5" x2="185.5" y1="649.8" y2="705.0" stroke="#3f7a70" stroke-width="1"/><rect x="183" y="669.5" width="5" height="30.7" fill="#12957c"/><line x1="191.5" x2="191.5" y1="638.0" y2="673.4" stroke="#3f7a70" stroke-width="1"/><rect x="189" y="647.8" width="5" height="22.5" fill="#12957c"/><line x1="197.5" x2="197.5" y1="625.3" y2="667.5" stroke="#8a4f5a" stroke-width="1"/><rect x="195" y="647.8" width="4" height="14.6" fill="#e8394a"/><line x1="202.5" x2="202.5" y1="651.7" y2="701.0" stroke="#8a4f5a" stroke-width="1"/><rect x="200" y="663.6" width="5" height="9.0" fill="#e8394a"/><line x1="208.5" x2="208.5" y1="646.6" y2="685.2" stroke="#3f7a70" stroke-width="1"/><rect x="206" y="663.6" width="5" height="9.0" fill="#12957c"/><line x1="214.5" x2="214.5" y1="642.0" y2="737.0" stroke="#8a4f5a" stroke-width="1"/><rect x="212" y="663.6" width="5" height="63.0" fill="#e8394a"/><line x1="220.5" x2="220.5" y1="677.4" y2="740.0" stroke="#3f7a70" stroke-width="1"/><rect x="218" y="683.3" width="5" height="43.3" fill="#12957c"/><line x1="226.5" x2="226.5" y1="673.4" y2="740.0" stroke="#8a4f5a" stroke-width="1"/><rect x="224" y="683.3" width="5" height="43.3" fill="#e8394a"/><line x1="232.5" x2="232.5" y1="689.2" y2="740.0" stroke="#3f7a70" stroke-width="1"/><rect x="230" y="696.3" width="5" height="30.3" fill="#12957c"/><line x1="238.5" x2="238.5" y1="584.8" y2="701.0" stroke="#3f7a70" stroke-width="1"/><rect x="236" y="595.8" width="5" height="101.3" fill="#12957c"/><line x1="244.5" x2="244.5" y1="592.6" y2="645.8" stroke="#8a4f5a" stroke-width="1"/><rect x="242" y="595.8" width="5" height="31.5" fill="#e8394a"/><line x1="250.5" x2="250.5" y1="602.5" y2="699.0" stroke="#3f7a70" stroke-width="1"/><rect x="248" y="619.4" width="5" height="7.9" fill="#12957c"/><line x1="256.5" x2="256.5" y1="543.4" y2="622.2" stroke="#3f7a70" stroke-width="1"/><rect x="254" y="557.2" width="5" height="62.2" fill="#12957c"/><line x1="262.5" x2="262.5" y1="330.6" y2="565.1" stroke="#3f7a70" stroke-width="1"/><rect x="260" y="354.3" width="5" height="202.9" fill="#12957c"/><line x1="268.5" x2="268.5" y1="245.9" y2="446.9" stroke="#3f7a70" stroke-width="1"/><rect x="266" y="310.9" width="5" height="43.4" fill="#12957c"/><line x1="274.5" x2="274.5" y1="264.4" y2="338.5" stroke="#3f7a70" stroke-width="1"/><rect x="272" y="290.4" width="4" height="20.5" fill="#12957c"/><line x1="279.5" x2="279.5" y1="289.3" y2="389.7" stroke="#8a4f5a" stroke-width="1"/><rect x="277" y="290.4" width="5" height="8.7" fill="#e8394a"/><line x1="285.5" x2="285.5" y1="295.2" y2="488.2" stroke="#8a4f5a" stroke-width="1"/><rect x="283" y="299.9" width="5" height="134.0" fill="#e8394a"/><line x1="291.5" x2="291.5" y1="257.7" y2="452.8" stroke="#3f7a70" stroke-width="1"/><rect x="289" y="370.0" width="5" height="63.9" fill="#12957c"/><line x1="297.5" x2="297.5" y1="310.1" y2="410.2" stroke="#3f7a70" stroke-width="1"/><rect x="295" y="341.3" width="5" height="28.7" fill="#12957c"/><line x1="303.5" x2="303.5" y1="294.4" y2="358.2" stroke="#3f7a70" stroke-width="1"/><rect x="301" y="338.5" width="5" height="3.2" fill="#12957c"/><line x1="309.5" x2="309.5" y1="338.5" y2="398.4" stroke="#8a4f5a" stroke-width="1"/><rect x="307" y="338.5" width="5" height="26.0" fill="#e8394a"/><line x1="315.5" x2="315.5" y1="329.8" y2="391.7" stroke="#8a4f5a" stroke-width="1"/><rect x="313" y="364.5" width="5" height="7.5" fill="#e8394a"/><line x1="321.5" x2="321.5" y1="354.3" y2="383.8" stroke="#3f7a70" stroke-width="1"/><rect x="319" y="369.2" width="5" height="2.8" fill="#12957c"/><line x1="327.5" x2="327.5" y1="355.0" y2="409.4" stroke="#8a4f5a" stroke-width="1"/><rect x="325" y="369.2" width="5" height="37.5" fill="#e8394a"/><line x1="333.5" x2="333.5" y1="389.7" y2="561.1" stroke="#3f7a70" stroke-width="1"/><rect x="331" y="391.7" width="5" height="15.0" fill="#12957c"/><line x1="339.5" x2="339.5" y1="323.5" y2="413.4" stroke="#3f7a70" stroke-width="1"/><rect x="337" y="390.9" width="5" height="1.0" fill="#12957c"/><line x1="345.5" x2="345.5" y1="356.2" y2="427.2" stroke="#3f7a70" stroke-width="1"/><rect x="343" y="386.6" width="5" height="5.1" fill="#12957c"/><line x1="351.5" x2="351.5" y1="351.1" y2="389.7" stroke="#3f7a70" stroke-width="1"/><rect x="349" y="361.0" width="4" height="25.6" fill="#12957c"/><line x1="356.5" x2="356.5" y1="358.2" y2="413.4" stroke="#8a4f5a" stroke-width="1"/><rect x="354" y="361.0" width="5" height="39.4" fill="#e8394a"/><line x1="362.5" x2="362.5" y1="383.8" y2="488.2" stroke="#8a4f5a" stroke-width="1"/><rect x="360" y="400.4" width="5" height="67.3" fill="#e8394a"/><line x1="368.5" x2="368.5" y1="433.1" y2="645.8" stroke="#8a4f5a" stroke-width="1"/><rect x="366" y="467.7" width="5" height="126.9" fill="#e8394a"/><line x1="374.5" x2="374.5" y1="509.9" y2="939.3" stroke="#3f7a70" stroke-width="1"/><rect x="372" y="543.4" width="5" height="51.2" fill="#12957c"/><line x1="380.5" x2="380.5" y1="506.3" y2="659.8" stroke="#8a4f5a" stroke-width="1"/><rect x="378" y="543.7" width="5" height="72.8" fill="#e8394a"/><line x1="386.5" x2="386.5" y1="600.0" y2="697.2" stroke="#8a4f5a" stroke-width="1"/><rect x="384" y="616.5" width="5" height="63.0" fill="#e8394a"/><line x1="392.5" x2="392.5" y1="641.0" y2="722.8" stroke="#8a4f5a" stroke-width="1"/><rect x="390" y="679.5" width="5" height="23.6" fill="#e8394a"/><line x1="398.5" x2="398.5" y1="612.6" y2="726.8" stroke="#3f7a70" stroke-width="1"/><rect x="396" y="672.8" width="5" height="30.3" fill="#12957c"/><line x1="404.5" x2="404.5" y1="655.9" y2="699.2" stroke="#3f7a70" stroke-width="1"/><rect x="402" y="663.0" width="5" height="9.8" fill="#12957c"/><line x1="410.5" x2="410.5" y1="625.2" y2="707.1" stroke="#8a4f5a" stroke-width="1"/><rect x="408" y="663.0" width="5" height="11.4" fill="#e8394a"/><line x1="416.5" x2="416.5" y1="639.4" y2="701.2" stroke="#3f7a70" stroke-width="1"/><rect x="414" y="661.0" width="5" height="13.4" fill="#12957c"/><line x1="422.5" x2="422.5" y1="616.5" y2="683.5" stroke="#8a4f5a" stroke-width="1"/><rect x="420" y="661.0" width="5" height="5.5" fill="#e8394a"/><line x1="428.5" x2="428.5" y1="632.3" y2="699.2" stroke="#3f7a70" stroke-width="1"/><rect x="426" y="640.2" width="4" height="26.3" fill="#12957c"/><line x1="433.5" x2="433.5" y1="583.1" y2="663.8" stroke="#3f7a70" stroke-width="1"/><rect x="431" y="603.5" width="5" height="36.7" fill="#12957c"/><line x1="439.5" x2="439.5" y1="484.6" y2="606.7" stroke="#3f7a70" stroke-width="1"/><rect x="437" y="526.8" width="5" height="76.7" fill="#12957c"/><line x1="445.5" x2="445.5" y1="485.8" y2="537.8" stroke="#3f7a70" stroke-width="1"/><rect x="443" y="516.9" width="5" height="10.3" fill="#12957c"/><line x1="451.5" x2="451.5" y1="498.4" y2="547.6" stroke="#8a4f5a" stroke-width="1"/><rect x="449" y="516.9" width="5" height="15.0" fill="#e8394a"/><line x1="457.5" x2="457.5" y1="516.1" y2="581.9" stroke="#8a4f5a" stroke-width="1"/><rect x="455" y="531.1" width="5" height="29.5" fill="#e8394a"/><line x1="463.5" x2="463.5" y1="555.5" y2="641.0" stroke="#8a4f5a" stroke-width="1"/><rect x="461" y="560.6" width="5" height="42.2" fill="#e8394a"/><line x1="469.5" x2="469.5" y1="523.2" y2="622.4" stroke="#3f7a70" stroke-width="1"/><rect x="467" y="526.8" width="5" height="76.0" fill="#12957c"/><line x1="475.5" x2="475.5" y1="522.8" y2="555.5" stroke="#8a4f5a" stroke-width="1"/><rect x="473" y="526.8" width="5" height="22.8" fill="#e8394a"/><line x1="481.5" x2="481.5" y1="537.8" y2="624.4" stroke="#8a4f5a" stroke-width="1"/><rect x="479" y="548.8" width="5" height="50.0" fill="#e8394a"/><line x1="487.5" x2="487.5" y1="581.9" y2="606.7" stroke="#3f7a70" stroke-width="1"/><rect x="485" y="595.7" width="5" height="1.2" fill="#12957c"/><line x1="493.5" x2="493.5" y1="584.3" y2="618.5" stroke="#3f7a70" stroke-width="1"/><rect x="491" y="596.0" width="5" height="1.0" fill="#12957c"/><line x1="499.5" x2="499.5" y1="581.9" y2="740.6" stroke="#8a4f5a" stroke-width="1"/><rect x="497" y="595.7" width="4" height="127.9" fill="#e8394a"/><line x1="504.5" x2="504.5" y1="685.4" y2="813.4" stroke="#3f7a70" stroke-width="1"/><rect x="502" y="703.9" width="5" height="19.7" fill="#12957c"/><line x1="510.5" x2="510.5" y1="701.2" y2="777.2" stroke="#8a4f5a" stroke-width="1"/><rect x="508" y="703.9" width="5" height="53.6" fill="#e8394a"/><line x1="516.5" x2="516.5" y1="732.7" y2="780.0" stroke="#3f7a70" stroke-width="1"/><rect x="514" y="755.5" width="5" height="2.0" fill="#12957c"/><line x1="522.5" x2="522.5" y1="756.3" y2="862.6" stroke="#8a4f5a" stroke-width="1"/><rect x="520" y="757.1" width="5" height="22.8" fill="#e8394a"/><line x1="528.5" x2="528.5" y1="748.4" y2="789.8" stroke="#3f7a70" stroke-width="1"/><rect x="526" y="770.1" width="5" height="9.8" fill="#12957c"/><line x1="534.5" x2="534.5" y1="416.5" y2="766.9" stroke="#3f7a70" stroke-width="1"/><rect x="532" y="441.3" width="5" height="318.9" fill="#12957c"/><line x1="540.5" x2="540.5" y1="429.5" y2="711.0" stroke="#8a4f5a" stroke-width="1"/><rect x="538" y="441.3" width="5" height="236.3" fill="#e8394a"/><line x1="546.5" x2="546.5" y1="612.6" y2="750.4" stroke="#3f7a70" stroke-width="1"/><rect x="544" y="648.0" width="5" height="29.6" fill="#12957c"/><line x1="552.5" x2="552.5" y1="611.4" y2="654.0" stroke="#3f7a70" stroke-width="1"/><rect x="550" y="629.2" width="5" height="19.5" fill="#12957c"/><line x1="558.5" x2="558.5" y1="566.4" y2="639.8" stroke="#3f7a70" stroke-width="1"/><rect x="556" y="586.6" width="5" height="42.6" fill="#12957c"/><line x1="564.5" x2="564.5" y1="577.7" y2="694.8" stroke="#8a4f5a" stroke-width="1"/><rect x="562" y="586.6" width="5" height="90.5" fill="#e8394a"/><line x1="570.5" x2="570.5" y1="666.4" y2="712.5" stroke="#8a4f5a" stroke-width="1"/><rect x="568" y="677.1" width="5" height="26.6" fill="#e8394a"/><line x1="576.5" x2="576.5" y1="693.0" y2="804.8" stroke="#8a4f5a" stroke-width="1"/><rect x="574" y="703.7" width="4" height="79.8" fill="#e8394a"/><line x1="581.5" x2="581.5" y1="730.3" y2="843.8" stroke="#8a4f5a" stroke-width="1"/><rect x="579" y="783.5" width="5" height="50.4" fill="#e8394a"/><line x1="587.5" x2="587.5" y1="751.6" y2="882.8" stroke="#3f7a70" stroke-width="1"/><rect x="585" y="769.3" width="5" height="64.6" fill="#12957c"/><line x1="593.5" x2="593.5" y1="730.3" y2="783.5" stroke="#3f7a70" stroke-width="1"/><rect x="591" y="740.2" width="5" height="29.1" fill="#12957c"/><line x1="599.5" x2="599.5" y1="694.8" y2="753.3" stroke="#3f7a70" stroke-width="1"/><rect x="597" y="733.8" width="5" height="6.4" fill="#12957c"/><line x1="605.5" x2="605.5" y1="682.4" y2="740.9" stroke="#3f7a70" stroke-width="1"/><rect x="603" y="690.5" width="5" height="43.3" fill="#12957c"/><line x1="611.5" x2="611.5" y1="639.8" y2="694.8" stroke="#3f7a70" stroke-width="1"/><rect x="609" y="675.3" width="5" height="15.2" fill="#12957c"/><line x1="617.5" x2="617.5" y1="666.4" y2="726.7" stroke="#8a4f5a" stroke-width="1"/><rect x="615" y="675.3" width="5" height="42.6" fill="#e8394a"/><line x1="623.5" x2="623.5" y1="687.7" y2="721.4" stroke="#3f7a70" stroke-width="1"/><rect x="621" y="698.3" width="5" height="19.6" fill="#12957c"/><line x1="629.5" x2="629.5" y1="694.8" y2="746.2" stroke="#8a4f5a" stroke-width="1"/><rect x="627" y="698.3" width="5" height="22.4" fill="#e8394a"/><line x1="635.5" x2="635.5" y1="591.2" y2="728.5" stroke="#3f7a70" stroke-width="1"/><rect x="633" y="609.0" width="5" height="111.7" fill="#12957c"/><line x1="641.5" x2="641.5" y1="599.0" y2="661.1" stroke="#8a4f5a" stroke-width="1"/><rect x="639" y="609.0" width="5" height="46.8" fill="#e8394a"/><line x1="647.5" x2="647.5" y1="648.7" y2="680.6" stroke="#8a4f5a" stroke-width="1"/><rect x="645" y="655.8" width="5" height="23.0" fill="#e8394a"/><line x1="653.5" x2="653.5" y1="666.4" y2="687.7" stroke="#8a4f5a" stroke-width="1"/><rect x="651" y="678.8" width="4" height="5.4" fill="#e8394a"/><line x1="658.5" x2="658.5" y1="648.7" y2="685.9" stroke="#3f7a70" stroke-width="1"/><rect x="656" y="654.0" width="5" height="30.2" fill="#12957c"/><line x1="664.5" x2="664.5" y1="627.4" y2="661.1" stroke="#3f7a70" stroke-width="1"/><rect x="662" y="650.5" width="5" height="4.6" fill="#12957c"/><line x1="670.5" x2="670.5" y1="638.8" y2="666.4" stroke="#8a4f5a" stroke-width="1"/><rect x="668" y="650.5" width="5" height="1.7" fill="#e8394a"/><line x1="676.5" x2="676.5" y1="638.0" y2="700.1" stroke="#8a4f5a" stroke-width="1"/><rect x="674" y="650.5" width="5" height="43.6" fill="#e8394a"/><line x1="682.5" x2="682.5" y1="693.0" y2="701.9" stroke="#8a4f5a" stroke-width="1"/><rect x="680" y="693.4" width="5" height="3.2" fill="#e8394a"/><line x1="688.5" x2="688.5" y1="694.8" y2="774.6" stroke="#8a4f5a" stroke-width="1"/><rect x="686" y="696.6" width="5" height="56.7" fill="#e8394a"/><line x1="694.5" x2="694.5" y1="746.2" y2="815.4" stroke="#8a4f5a" stroke-width="1"/><rect x="692" y="753.3" width="5" height="30.9" fill="#e8394a"/><line x1="700.5" x2="700.5" y1="758.7" y2="795.9" stroke="#3f7a70" stroke-width="1"/><rect x="698" y="782.8" width="5" height="1.4" fill="#12957c"/><line x1="706.5" x2="706.5" y1="781.7" y2="831.4" stroke="#8a4f5a" stroke-width="1"/><rect x="704" y="782.8" width="5" height="22.0" fill="#e8394a"/><line x1="712.5" x2="712.5" y1="772.8" y2="813.6" stroke="#3f7a70" stroke-width="1"/><rect x="710" y="782.8" width="5" height="22.0" fill="#12957c"/><line x1="718.5" x2="718.5" y1="742.7" y2="847.3" stroke="#8a4f5a" stroke-width="1"/><rect x="716" y="782.8" width="5" height="50.4" fill="#e8394a"/><line x1="724.5" x2="724.5" y1="806.0" y2="858.0" stroke="#3f7a70" stroke-width="1"/><rect x="722" y="814.4" width="5" height="18.1" fill="#12957c"/><line x1="730.5" x2="730.5" y1="773.6" y2="833.5" stroke="#3f7a70" stroke-width="1"/><rect x="728" y="786.0" width="4" height="28.4" fill="#12957c"/><line x1="735.5" x2="735.5" y1="767.5" y2="792.2" stroke="#3f7a70" stroke-width="1"/><rect x="733" y="779.8" width="5" height="6.2" fill="#12957c"/><line x1="741.5" x2="741.5" y1="774.8" y2="899.2" stroke="#8a4f5a" stroke-width="1"/><rect x="739" y="779.8" width="5" height="95.4" fill="#e8394a"/><line x1="747.5" x2="747.5" y1="839.0" y2="1008.3" stroke="#8a4f5a" stroke-width="1"/><rect x="745" y="875.0" width="5" height="10.2" fill="#e8394a"/><line x1="753.5" x2="753.5" y1="853.4" y2="936.3" stroke="#8a4f5a" stroke-width="1"/><rect x="751" y="884.7" width="5" height="44.9" fill="#e8394a"/><line x1="759.5" x2="759.5" y1="804.3" y2="959.4" stroke="#3f7a70" stroke-width="1"/><rect x="757" y="819.0" width="5" height="110.6" fill="#12957c"/><line x1="765.5" x2="765.5" y1="816.6" y2="874.9" stroke="#8a4f5a" stroke-width="1"/><rect x="763" y="819.0" width="5" height="37.5" fill="#e8394a"/><line x1="771.5" x2="771.5" y1="813.5" y2="862.6" stroke="#3f7a70" stroke-width="1"/><rect x="769" y="831.9" width="5" height="24.6" fill="#12957c"/><line x1="777.5" x2="777.5" y1="761.9" y2="839.6" stroke="#3f7a70" stroke-width="1"/><rect x="775" y="774.2" width="5" height="57.7" fill="#12957c"/><line x1="783.5" x2="783.5" y1="736.7" y2="807.3" stroke="#8a4f5a" stroke-width="1"/><rect x="781" y="774.2" width="5" height="17.2" fill="#e8394a"/><line x1="789.5" x2="789.5" y1="765.0" y2="798.1" stroke="#3f7a70" stroke-width="1"/><rect x="787" y="787.4" width="5" height="4.0" fill="#12957c"/><line x1="795.5" x2="795.5" y1="762.8" y2="825.8" stroke="#8a4f5a" stroke-width="1"/><rect x="793" y="787.4" width="5" height="19.0" fill="#e8394a"/><line x1="801.5" x2="801.5" y1="782.8" y2="825.8" stroke="#8a4f5a" stroke-width="1"/><rect x="799" y="805.8" width="4" height="1.0" fill="#e8394a"/><line x1="806.5" x2="806.5" y1="793.5" y2="818.1" stroke="#8a4f5a" stroke-width="1"/><rect x="804" y="805.8" width="5" height="8.3" fill="#e8394a"/><line x1="812.5" x2="812.5" y1="807.3" y2="822.7" stroke="#8a4f5a" stroke-width="1"/><rect x="810" y="812.9" width="5" height="2.7" fill="#e8394a"/><line x1="818.5" x2="818.5" y1="799.7" y2="817.2" stroke="#3f7a70" stroke-width="1"/><rect x="816" y="803.7" width="5" height="11.9" fill="#12957c"/><line x1="824.5" x2="824.5" y1="801.2" y2="824.2" stroke="#8a4f5a" stroke-width="1"/><rect x="822" y="803.7" width="5" height="4.6" fill="#e8394a"/><line x1="830.5" x2="830.5" y1="782.2" y2="816.6" stroke="#3f7a70" stroke-width="1"/><rect x="828" y="804.3" width="5" height="4.0" fill="#12957c"/><line x1="836.5" x2="836.5" y1="735.2" y2="813.5" stroke="#3f7a70" stroke-width="1"/><rect x="834" y="750.5" width="5" height="55.3" fill="#12957c"/><line x1="842.5" x2="842.5" y1="712.8" y2="759.7" stroke="#3f7a70" stroke-width="1"/><rect x="840" y="749.0" width="5" height="1.5" fill="#12957c"/><line x1="848.5" x2="848.5" y1="742.2" y2="790.5" stroke="#8a4f5a" stroke-width="1"/><rect x="846" y="749.0" width="5" height="5.2" fill="#e8394a"/><line x1="854.5" x2="854.5" y1="747.5" y2="771.1" stroke="#8a4f5a" stroke-width="1"/><rect x="852" y="754.2" width="5" height="11.7" fill="#e8394a"/><line x1="860.5" x2="860.5" y1="736.7" y2="773.6" stroke="#3f7a70" stroke-width="1"/><rect x="858" y="760.4" width="5" height="5.5" fill="#12957c"/><line x1="866.5" x2="866.5" y1="716.7" y2="773.6" stroke="#3f7a70" stroke-width="1"/><rect x="864" y="734.3" width="5" height="26.1" fill="#12957c"/><line x1="872.5" x2="872.5" y1="687.6" y2="736.7" stroke="#3f7a70" stroke-width="1"/><rect x="870" y="716.1" width="5" height="18.2" fill="#12957c"/><line x1="878.5" x2="878.5" y1="708.5" y2="741.3" stroke="#8a4f5a" stroke-width="1"/><rect x="876" y="716.1" width="4" height="24.3" fill="#e8394a"/><line x1="883.5" x2="883.5" y1="738.2" y2="788.3" stroke="#8a4f5a" stroke-width="1"/><rect x="881" y="740.4" width="5" height="19.3" fill="#e8394a"/><line x1="889.5" x2="889.5" y1="732.1" y2="762.8" stroke="#3f7a70" stroke-width="1"/><rect x="887" y="751.4" width="5" height="9.9" fill="#12957c"/><line x1="895.5" x2="895.5" y1="738.2" y2="761.3" stroke="#8a4f5a" stroke-width="1"/><rect x="893" y="750.5" width="5" height="3.1" fill="#e8394a"/><line x1="901.5" x2="901.5" y1="748.4" y2="764.3" stroke="#8a4f5a" stroke-width="1"/><rect x="899" y="752.7" width="5" height="10.1" fill="#e8394a"/><line x1="907.5" x2="907.5" y1="750.0" y2="777.0" stroke="#8a4f5a" stroke-width="1"/><rect x="905" y="762.0" width="5" height="14.0" fill="#e8394a"/><line x1="913.5" x2="913.5" y1="757.6" y2="795.9" stroke="#8a4f5a" stroke-width="1"/><rect x="911" y="775.1" width="5" height="11.4" fill="#e8394a"/><line x1="919.5" x2="919.5" y1="774.6" y2="808.9" stroke="#3f7a70" stroke-width="1"/><rect x="917" y="775.8" width="5" height="10.7" fill="#12957c"/><line x1="925.5" x2="925.5" y1="772.3" y2="797.8" stroke="#8a4f5a" stroke-width="1"/><rect x="923" y="775.8" width="5" height="13.0" fill="#e8394a"/><line x1="931.5" x2="931.5" y1="701.3" y2="791.7" stroke="#3f7a70" stroke-width="1"/><rect x="929" y="701.8" width="5" height="87.0" fill="#12957c"/><line x1="937.5" x2="937.5" y1="659.2" y2="720.3" stroke="#3f7a70" stroke-width="1"/><rect x="935" y="694.7" width="5" height="7.8" fill="#12957c"/><line x1="943.5" x2="943.5" y1="638.7" y2="698.5" stroke="#3f7a70" stroke-width="1"/><rect x="941" y="641.0" width="5" height="54.4" fill="#12957c"/><line x1="949.5" x2="949.5" y1="635.6" y2="701.3" stroke="#8a4f5a" stroke-width="1"/><rect x="947" y="641.0" width="5" height="45.0" fill="#e8394a"/><line x1="955.5" x2="955.5" y1="563.0" y2="691.4" stroke="#3f7a70" stroke-width="1"/><rect x="953" y="610.3" width="4" height="75.7" fill="#12957c"/><line x1="960.5" x2="960.5" y1="584.3" y2="661.6" stroke="#3f7a70" stroke-width="1"/><rect x="958" y="593.0" width="5" height="18.0" fill="#12957c"/><line x1="966.5" x2="966.5" y1="564.2" y2="619.8" stroke="#8a4f5a" stroke-width="1"/><rect x="964" y="593.0" width="5" height="14.9" fill="#e8394a"/><line x1="972.5" x2="972.5" y1="598.5" y2="691.9" stroke="#8a4f5a" stroke-width="1"/><rect x="970" y="606.8" width="5" height="70.9" fill="#e8394a"/><line x1="978.5" x2="978.5" y1="654.0" y2="693.1" stroke="#8a4f5a" stroke-width="1"/><rect x="976" y="677.2" width="5" height="3.3" fill="#e8394a"/><line x1="984.5" x2="984.5" y1="678.9" y2="714.3" stroke="#8a4f5a" stroke-width="1"/><rect x="982" y="680.1" width="5" height="11.8" fill="#e8394a"/><line x1="990.5" x2="990.5" y1="650.5" y2="699.4" stroke="#3f7a70" stroke-width="1"/><rect x="988" y="659.2" width="5" height="32.7" fill="#12957c"/><line x1="996.5" x2="996.5" y1="654.0" y2="720.3" stroke="#8a4f5a" stroke-width="1"/><rect x="994" y="659.2" width="5" height="21.3" fill="#e8394a"/><line x1="1002.5" x2="1002.5" y1="667.0" y2="707.2" stroke="#8a4f5a" stroke-width="1"/><rect x="1000" y="680.1" width="5" height="10.6" fill="#e8394a"/><line x1="1008.5" x2="1008.5" y1="659.2" y2="699.4" stroke="#3f7a70" stroke-width="1"/><rect x="1006" y="673.0" width="5" height="17.7" fill="#12957c"/><line x1="1014.5" x2="1014.5" y1="648.1" y2="675.3" stroke="#3f7a70" stroke-width="1"/><rect x="1012" y="658.3" width="5" height="15.8" fill="#12957c"/><line x1="1020.5" x2="1020.5" y1="637.5" y2="720.3" stroke="#8a4f5a" stroke-width="1"/><rect x="1018" y="658.3" width="5" height="57.2" fill="#e8394a"/><line x1="1026.5" x2="1026.5" y1="688.3" y2="719.8" stroke="#3f7a70" stroke-width="1"/><rect x="1024" y="700.9" width="5" height="14.6" fill="#12957c"/><line x1="1032.5" x2="1032.5" y1="695.4" y2="727.3" stroke="#3f7a70" stroke-width="1"/><rect x="1030" y="696.1" width="4" height="5.2" fill="#12957c"/><line x1="1037.5" x2="1037.5" y1="689.5" y2="715.5" stroke="#8a4f5a" stroke-width="1"/><rect x="1035" y="696.1" width="5" height="14.2" fill="#e8394a"/><line x1="1043.5" x2="1043.5" y1="691.4" y2="726.9" stroke="#3f7a70" stroke-width="1"/><rect x="1041" y="706.5" width="5" height="4.3" fill="#12957c"/><line x1="1049.5" x2="1049.5" y1="704.9" y2="744.4" stroke="#8a4f5a" stroke-width="1"/><rect x="1047" y="706.5" width="5" height="18.5" fill="#e8394a"/><line x1="1055.5" x2="1055.5" y1="709.6" y2="740.4" stroke="#8a4f5a" stroke-width="1"/><rect x="1053" y="725.0" width="5" height="14.2" fill="#e8394a"/><line x1="1061.5" x2="1061.5" y1="735.6" y2="786.5" stroke="#8a4f5a" stroke-width="1"/><rect x="1059" y="738.0" width="5" height="44.9" fill="#e8394a"/><line x1="1067.5" x2="1067.5" y1="754.5" y2="807.7" stroke="#3f7a70" stroke-width="1"/><rect x="1065" y="768.0" width="5" height="14.9" fill="#12957c"/><line x1="1073.5" x2="1073.5" y1="761.6" y2="787.6" stroke="#3f7a70" stroke-width="1"/><rect x="1071" y="764.7" width="5" height="4.0" fill="#12957c"/><line x1="1079.5" x2="1079.5" y1="755.7" y2="784.1" stroke="#3f7a70" stroke-width="1"/><rect x="1077" y="758.1" width="5" height="7.6" fill="#12957c"/><line x1="1085.5" x2="1085.5" y1="723.7" y2="762.1" stroke="#3f7a70" stroke-width="1"/><rect x="1083" y="738.1" width="5" height="20.1" fill="#12957c"/><line x1="1091.5" x2="1091.5" y1="729.6" y2="759.2" stroke="#8a4f5a" stroke-width="1"/><rect x="1089" y="738.1" width="5" height="19.1" fill="#e8394a"/><line x1="1097.5" x2="1097.5" y1="745.4" y2="816.3" stroke="#8a4f5a" stroke-width="1"/><rect x="1095" y="756.2" width="5" height="46.3" fill="#e8394a"/><line x1="1103.5" x2="1103.5" y1="761.2" y2="806.5" stroke="#3f7a70" stroke-width="1"/><rect x="1101" y="774.0" width="4" height="28.5" fill="#12957c"/><line x1="1108.5" x2="1108.5" y1="760.2" y2="777.9" stroke="#3f7a70" stroke-width="1"/><rect x="1106" y="766.1" width="5" height="8.9" fill="#12957c"/><line x1="1114.5" x2="1114.5" y1="714.5" y2="770.4" stroke="#3f7a70" stroke-width="1"/><rect x="1112" y="727.7" width="5" height="38.4" fill="#12957c"/><line x1="1120.5" x2="1120.5" y1="701.1" y2="746.4" stroke="#3f7a70" stroke-width="1"/><rect x="1118" y="705.0" width="5" height="23.7" fill="#12957c"/><line x1="1126.5" x2="1126.5" y1="702.6" y2="729.6" stroke="#8a4f5a" stroke-width="1"/><rect x="1124" y="705.0" width="5" height="6.3" fill="#e8394a"/><line x1="1132.5" x2="1132.5" y1="698.1" y2="733.6" stroke="#8a4f5a" stroke-width="1"/><rect x="1130" y="711.3" width="5" height="16.4" fill="#e8394a"/><line x1="1138.5" x2="1138.5" y1="725.7" y2="768.1" stroke="#8a4f5a" stroke-width="1"/><rect x="1136" y="727.1" width="5" height="34.7" fill="#e8394a"/><line x1="1144.5" x2="1144.5" y1="760.6" y2="806.5" stroke="#8a4f5a" stroke-width="1"/><rect x="1142" y="761.2" width="5" height="18.7" fill="#e8394a"/><line x1="1150.5" x2="1150.5" y1="765.1" y2="794.6" stroke="#8a4f5a" stroke-width="1"/><rect x="1148" y="778.9" width="5" height="3.9" fill="#e8394a"/><line x1="1156.5" x2="1156.5" y1="767.1" y2="782.8" stroke="#3f7a70" stroke-width="1"/><rect x="1154" y="771.0" width="5" height="11.8" fill="#12957c"/><line x1="1162.5" x2="1162.5" y1="698.1" y2="775.9" stroke="#3f7a70" stroke-width="1"/><rect x="1160" y="740.1" width="5" height="31.5" fill="#12957c"/><line x1="1168.5" x2="1168.5" y1="732.6" y2="780.3" stroke="#8a4f5a" stroke-width="1"/><rect x="1166" y="740.1" width="5" height="34.8" fill="#e8394a"/><line x1="1174.5" x2="1174.5" y1="764.5" y2="790.7" stroke="#3f7a70" stroke-width="1"/><rect x="1172" y="769.0" width="5" height="5.9" fill="#12957c"/><line x1="1180.5" x2="1180.5" y1="763.1" y2="778.9" stroke="#8a4f5a" stroke-width="1"/><rect x="1178" y="769.0" width="4" height="3.4" fill="#e8394a"/><line x1="1185.5" x2="1185.5" y1="765.1" y2="805.5" stroke="#8a4f5a" stroke-width="1"/><rect x="1183" y="772.0" width="5" height="19.7" fill="#e8394a"/><line x1="1191.5" x2="1191.5" y1="780.3" y2="841.3" stroke="#8a4f5a" stroke-width="1"/><rect x="1189" y="791.3" width="5" height="24.0" fill="#e8394a"/><line x1="1197.5" x2="1197.5" y1="804.5" y2="880.3" stroke="#8a4f5a" stroke-width="1"/><rect x="1195" y="815.3" width="5" height="20.7" fill="#e8394a"/><line x1="1203.5" x2="1203.5" y1="770.0" y2="857.7" stroke="#3f7a70" stroke-width="1"/><rect x="1201" y="774.0" width="5" height="61.0" fill="#12957c"/><line x1="1209.5" x2="1209.5" y1="750.3" y2="785.8" stroke="#3f7a70" stroke-width="1"/><rect x="1207" y="761.2" width="5" height="13.8" fill="#12957c"/><line x1="1215.5" x2="1215.5" y1="744.4" y2="770.0" stroke="#8a4f5a" stroke-width="1"/><rect x="1213" y="761.2" width="5" height="2.5" fill="#e8394a"/><line x1="1221.5" x2="1221.5" y1="751.3" y2="800.6" stroke="#8a4f5a" stroke-width="1"/><rect x="1219" y="763.1" width="5" height="35.5" fill="#e8394a"/><line x1="1227.5" x2="1227.5" y1="775.5" y2="812.4" stroke="#3f7a70" stroke-width="1"/><rect x="1225" y="780.9" width="5" height="17.7" fill="#12957c"/><line x1="1233.5" x2="1233.5" y1="753.3" y2="784.2" stroke="#3f7a70" stroke-width="1"/><rect x="1231" y="763.1" width="5" height="18.7" fill="#12957c"/><line x1="1239.5" x2="1239.5" y1="748.4" y2="765.7" stroke="#3f7a70" stroke-width="1"/><rect x="1237" y="753.9" width="5" height="10.2" fill="#12957c"/><line x1="1245.5" x2="1245.5" y1="702.1" y2="771.0" stroke="#3f7a70" stroke-width="1"/><rect x="1243" y="741.5" width="5" height="12.8" fill="#12957c"/><line x1="1251.5" x2="1251.5" y1="739.5" y2="777.9" stroke="#8a4f5a" stroke-width="1"/><rect x="1249" y="741.5" width="5" height="27.5" fill="#e8394a"/><line x1="1257.5" x2="1257.5" y1="716.8" y2="771.6" stroke="#3f7a70" stroke-width="1"/><rect x="1255" y="742.0" width="4" height="27.6" fill="#12957c"/><line x1="1262.5" x2="1262.5" y1="709.9" y2="743.4" stroke="#3f7a70" stroke-width="1"/><rect x="1260" y="731.6" width="5" height="10.8" fill="#12957c"/><line x1="1268.5" x2="1268.5" y1="728.7" y2="758.2" stroke="#8a4f5a" stroke-width="1"/><rect x="1266" y="731.6" width="5" height="16.8" fill="#e8394a"/><line x1="1274.5" x2="1274.5" y1="742.0" y2="755.8" stroke="#8a4f5a" stroke-width="1"/><rect x="1272" y="747.4" width="5" height="1.9" fill="#e8394a"/><line x1="1280.5" x2="1280.5" y1="718.2" y2="752.8" stroke="#3f7a70" stroke-width="1"/><rect x="1278" y="726.0" width="5" height="23.8" fill="#12957c"/><line x1="1286.5" x2="1286.5" y1="691.5" y2="733.2" stroke="#8a4f5a" stroke-width="1"/><rect x="1284" y="726.0" width="5" height="1.2" fill="#e8394a"/><line x1="1292.5" x2="1292.5" y1="706.7" y2="735.2" stroke="#3f7a70" stroke-width="1"/><rect x="1290" y="709.7" width="5" height="18.0" fill="#12957c"/><line x1="1298.5" x2="1298.5" y1="660.3" y2="714.2" stroke="#3f7a70" stroke-width="1"/><rect x="1296" y="670.2" width="5" height="39.5" fill="#12957c"/><line x1="1304.5" x2="1304.5" y1="600.3" y2="673.8" stroke="#3f7a70" stroke-width="1"/><rect x="1302" y="609.3" width="5" height="61.5" fill="#12957c"/><line x1="1310.5" x2="1310.5" y1="425.3" y2="622.8" stroke="#3f7a70" stroke-width="1"/><rect x="1308" y="529.9" width="5" height="80.3" fill="#12957c"/><line x1="1316.5" x2="1316.5" y1="480.4" y2="559.3" stroke="#3f7a70" stroke-width="1"/><rect x="1314" y="526.3" width="5" height="4.2" fill="#12957c"/><line x1="1322.5" x2="1322.5" y1="460.0" y2="532.9" stroke="#3f7a70" stroke-width="1"/><rect x="1320" y="484.6" width="5" height="42.3" fill="#12957c"/><line x1="1328.5" x2="1328.5" y1="400.0" y2="488.0" stroke="#3f7a70" stroke-width="1"/><rect x="1326" y="433.0" width="5" height="52.2" fill="#12957c"/><line x1="1334.5" x2="1334.5" y1="433.0" y2="498.4" stroke="#8a4f5a" stroke-width="1"/><rect x="1332" y="433.0" width="4" height="17.5" fill="#e8394a"/><line x1="1339.5" x2="1339.5" y1="372.8" y2="467.0" stroke="#3f7a70" stroke-width="1"/><rect x="1337" y="398.8" width="5" height="51.7" fill="#12957c"/><line x1="1345.5" x2="1345.5" y1="181.3" y2="420.6" stroke="#3f7a70" stroke-width="1"/><rect x="1343" y="209.7" width="5" height="190.0" fill="#12957c"/><line x1="1351.5" x2="1351.5" y1="133.5" y2="268.0" stroke="#8a4f5a" stroke-width="1"/><rect x="1349" y="209.7" width="5" height="30.0" fill="#e8394a"/><line x1="1357.5" x2="1357.5" y1="208.2" y2="263.6" stroke="#3f7a70" stroke-width="1"/><rect x="1355" y="233.7" width="5" height="6.0" fill="#12957c"/><line x1="1363.5" x2="1363.5" y1="176.8" y2="250.1" stroke="#3f7a70" stroke-width="1"/><rect x="1361" y="221.7" width="5" height="12.6" fill="#12957c"/><line x1="1369.5" x2="1369.5" y1="137.9" y2="241.1" stroke="#3f7a70" stroke-width="1"/><rect x="1367" y="181.3" width="5" height="41.0" fill="#12957c"/><line x1="1375.5" x2="1375.5" y1="169.4" y2="233.7" stroke="#3f7a70" stroke-width="1"/><rect x="1373" y="180.7" width="5" height="1.2" fill="#12957c"/><line x1="1381.5" x2="1381.5" y1="179.8" y2="405.7" stroke="#8a4f5a" stroke-width="1"/><rect x="1379" y="180.7" width="5" height="156.2" fill="#e8394a"/><line x1="1387.5" x2="1387.5" y1="301.0" y2="432.6" stroke="#8a4f5a" stroke-width="1"/><rect x="1385" y="336.9" width="5" height="16.4" fill="#e8394a"/><line x1="1393.5" x2="1393.5" y1="345.8" y2="414.6" stroke="#8a4f5a" stroke-width="1"/><rect x="1391" y="352.7" width="5" height="2.7" fill="#e8394a"/><line x1="1399.5" x2="1399.5" y1="321.9" y2="367.7" stroke="#3f7a70" stroke-width="1"/><rect x="1397" y="343.8" width="5" height="11.0" fill="#12957c"/><line x1="1405.5" x2="1405.5" y1="307.9" y2="348.8" stroke="#3f7a70" stroke-width="1"/><rect x="1403" y="312.9" width="4" height="31.5" fill="#12957c"/><line x1="1410.5" x2="1410.5" y1="274.1" y2="368.3" stroke="#8a4f5a" stroke-width="1"/><rect x="1408" y="312.9" width="5" height="50.9" fill="#e8394a"/><line x1="1416.5" x2="1416.5" y1="335.4" y2="392.2" stroke="#3f7a70" stroke-width="1"/><rect x="1414" y="360.8" width="5" height="2.1" fill="#12957c"/><line x1="1422.5" x2="1422.5" y1="345.8" y2="414.6" stroke="#8a4f5a" stroke-width="1"/><rect x="1420" y="361.0" width="5" height="13.5" fill="#e8394a"/><line x1="1428.5" x2="1428.5" y1="339.0" y2="411.0" stroke="#8a4f5a" stroke-width="1"/><rect x="1426" y="374.5" width="5" height="32.1" fill="#e8394a"/><line x1="1434.5" x2="1434.5" y1="390.0" y2="460.0" stroke="#8a4f5a" stroke-width="1"/><rect x="1432" y="406.2" width="5" height="26.6" fill="#e8394a"/><line x1="1440.5" x2="1440.5" y1="407.7" y2="526.6" stroke="#8a4f5a" stroke-width="1"/><rect x="1438" y="432.4" width="5" height="82.8" fill="#e8394a"/><line x1="1446.5" x2="1446.5" y1="431.8" y2="530.1" stroke="#3f7a70" stroke-width="1"/><rect x="1444" y="438.6" width="5" height="76.6" fill="#12957c"/><line x1="1452.5" x2="1452.5" y1="378.0" y2="444.3" stroke="#3f7a70" stroke-width="1"/><rect x="1450" y="384.9" width="5" height="53.7" fill="#12957c"/><line x1="1458.5" x2="1458.5" y1="370.0" y2="451.2" stroke="#8a4f5a" stroke-width="1"/><rect x="1456" y="384.9" width="5" height="46.9" fill="#e8394a"/><line x1="1464.5" x2="1464.5" y1="407.7" y2="456.9" stroke="#3f7a70" stroke-width="1"/><rect x="1462" y="419.2" width="5" height="12.6" fill="#12957c"/><line x1="1470.5" x2="1470.5" y1="272.9" y2="430.6" stroke="#3f7a70" stroke-width="1"/><rect x="1468" y="279.3" width="5" height="140.3" fill="#12957c"/><line x1="1476.5" x2="1476.5" y1="252.3" y2="327.7" stroke="#8a4f5a" stroke-width="1"/><rect x="1474" y="279.3" width="5" height="14.1" fill="#e8394a"/><line x1="1482.5" x2="1482.5" y1="267.1" y2="326.6" stroke="#8a4f5a" stroke-width="1"/><rect x="1480" y="293.0" width="4" height="26.7" fill="#e8394a"/><line x1="1487.5" x2="1487.5" y1="295.7" y2="350.6" stroke="#8a4f5a" stroke-width="1"/><rect x="1485" y="319.0" width="5" height="17.9" fill="#e8394a"/><line x1="1493.5" x2="1493.5" y1="272.9" y2="364.3" stroke="#8a4f5a" stroke-width="1"/><rect x="1491" y="335.7" width="5" height="25.2" fill="#e8394a"/><line x1="1499.5" x2="1499.5" y1="285.4" y2="370.0" stroke="#3f7a70" stroke-width="1"/><rect x="1497" y="301.4" width="5" height="59.5" fill="#12957c"/><line x1="1505.5" x2="1505.5" y1="272.9" y2="327.7" stroke="#3f7a70" stroke-width="1"/><rect x="1503" y="298.0" width="5" height="3.4" fill="#12957c"/><line x1="1511.5" x2="1511.5" y1="266.0" y2="418.0" stroke="#8a4f5a" stroke-width="1"/><rect x="1509" y="298.0" width="5" height="84.6" fill="#e8394a"/><line x1="1517.5" x2="1517.5" y1="355.2" y2="413.5" stroke="#8a4f5a" stroke-width="1"/><rect x="1515" y="381.5" width="5" height="1.1" fill="#e8394a"/><line x1="1523.5" x2="1523.5" y1="349.5" y2="384.9" stroke="#3f7a70" stroke-width="1"/><rect x="1521" y="370.0" width="5" height="12.6" fill="#12957c"/><line x1="1529.5" x2="1529.5" y1="352.9" y2="381.5" stroke="#8a4f5a" stroke-width="1"/><rect x="1527" y="370.0" width="5" height="8.0" fill="#e8394a"/><line x1="1535.5" x2="1535.5" y1="374.6" y2="439.8" stroke="#8a4f5a" stroke-width="1"/><rect x="1533" y="378.0" width="5" height="11.5" fill="#e8394a"/><line x1="1541.5" x2="1541.5" y1="381.5" y2="479.8" stroke="#8a4f5a" stroke-width="1"/><rect x="1539" y="389.5" width="5" height="86.8" fill="#e8394a"/><line x1="1547.5" x2="1547.5" y1="420.3" y2="492.3" stroke="#3f7a70" stroke-width="1"/><rect x="1545" y="436.3" width="5" height="40.0" fill="#12957c"/><line x1="1553.5" x2="1553.5" y1="430.6" y2="482.1" stroke="#8a4f5a" stroke-width="1"/><rect x="1551" y="436.3" width="5" height="43.5" fill="#e8394a"/><line x1="1559.5" x2="1559.5" y1="370.0" y2="507.2" stroke="#3f7a70" stroke-width="1"/><rect x="1557" y="384.4" width="4" height="94.2" fill="#12957c"/><line x1="1564.5" x2="1564.5" y1="383.7" y2="427.2" stroke="#8a4f5a" stroke-width="1"/><rect x="1562" y="384.4" width="5" height="10.8" fill="#e8394a"/><line x1="1570.5" x2="1570.5" y1="361.6" y2="420.3" stroke="#8a4f5a" stroke-width="1"/><rect x="1568" y="395.2" width="5" height="9.1" fill="#e8394a"/><line x1="1576.5" x2="1576.5" y1="400.9" y2="490.0" stroke="#8a4f5a" stroke-width="1"/><rect x="1574" y="404.3" width="5" height="72.0" fill="#e8394a"/><line x1="1582.5" x2="1582.5" y1="381.5" y2="479.8" stroke="#3f7a70" stroke-width="1"/><rect x="1580" y="410.0" width="5" height="66.3" fill="#12957c"/><line x1="1588.5" x2="1588.5" y1="396.3" y2="431.8" stroke="#8a4f5a" stroke-width="1"/><rect x="1586" y="410.0" width="5" height="19.5" fill="#e8394a"/><line x1="1594.5" x2="1594.5" y1="405.5" y2="439.8" stroke="#8a4f5a" stroke-width="1"/><rect x="1592" y="429.0" width="5" height="1.0" fill="#e8394a"/><line x1="1600.5" x2="1600.5" y1="425.8" y2="482.6" stroke="#8a4f5a" stroke-width="1"/><rect x="1598" y="430.3" width="5" height="36.0" fill="#e8394a"/><line x1="1191.3" y1="760.6" x2="1327.2" y2="663.9" stroke="#2f4bb0" stroke-width="2"/><line x1="1205.5" y1="831.1" x2="1339.8" y2="696.6" stroke="#2f4bb0" stroke-width="2"/><polyline points="1463.4,261.4 1665.3,428.9 1440.1,527.8" fill="none" stroke="#2f4bb0" stroke-width="2"/><line x1="10" x2="1938" y1="466.5" y2="466.5" stroke="#6a4a50" stroke-width="1" stroke-dasharray="1,2.09"/></g><rect x="10" y="1125.4" width="1928" height="48" fill="#f0ecf9"/><line x1="10" x2="1938" y1="1119.4" y2="1119.4" stroke="#f0f1f4" stroke-width="1"/><line x1="10" x2="1938" y1="1179.4" y2="1179.4" stroke="#f0f1f4" stroke-width="1"/><line x1="179.5" x2="179.5" y1="1094" y2="1180" stroke="#ebe8f2" stroke-width="1" stroke-opacity="0.7"/><line x1="362.5" x2="362.5" y1="1094" y2="1180" stroke="#ebe8f2" stroke-width="1" stroke-opacity="0.7"/><line x1="528.5" x2="528.5" y1="1094" y2="1180" stroke="#ebe8f2" stroke-width="1" stroke-opacity="0.7"/><line x1="712.5" x2="712.5" y1="1094" y2="1180" stroke="#ebe8f2" stroke-width="1" stroke-opacity="0.7"/><line x1="889.5" x2="889.5" y1="1094" y2="1180" stroke="#ebe8f2" stroke-width="1" stroke-opacity="0.7"/><line x1="1073.5" x2="1073.5" y1="1094" y2="1180" stroke="#ebe8f2" stroke-width="1" stroke-opacity="0.7"/><line x1="1251.5" x2="1251.5" y1="1094" y2="1180" stroke="#ebe8f2" stroke-width="1" stroke-opacity="0.7"/><line x1="1434.5" x2="1434.5" y1="1094" y2="1180" stroke="#ebe8f2" stroke-width="1" stroke-opacity="0.7"/><line x1="1618.5" x2="1618.5" y1="1094" y2="1180" stroke="#ebe8f2" stroke-width="1" stroke-opacity="0.7"/><line x1="1795.5" x2="1795.5" y1="1094" y2="1180" stroke="#ebe8f2" stroke-width="1" stroke-opacity="0.7"/><line x1="10" x2="1938" y1="1125.4" y2="1125.4" stroke="#787b86" stroke-width="1" stroke-dasharray="5.3,5.7"/><line x1="10" x2="1938" y1="1149.4" y2="1149.4" stroke="#787b86" stroke-width="1" stroke-dasharray="5.3,5.7"/><line x1="10" x2="1938" y1="1173.4" y2="1173.4" stroke="#787b86" stroke-width="1" stroke-dasharray="5.3,5.7"/><g clip-path="url(#rsiclip)"><polygon points="7.5,1113.9 13.5,1118.5 19.5,1123.2 25.5,1120.0 31.5,1116.8 37.5,1117.4 40.2,1125.4" fill="url(#obg)"/><polygon points="259.7,1125.4 262.5,1119.4 268.5,1117.8 274.5,1116.3 279.5,1117.8 282.2,1125.4" fill="url(#obg)"/><polygon points="1302.4,1125.4 1304.5,1122.5 1310.5,1114.7 1316.5,1114.3 1322.5,1111.3 1328.5,1108.6 1334.5,1112.7 1339.5,1109.7 1345.5,1103.1 1351.5,1108.6 1357.5,1108.2 1363.5,1107.2 1369.5,1105.8 1375.5,1105.8 1379.9,1125.4" fill="url(#obg)"/><path d="M10.0,1103.9 C14.6,1104.8 29.8,1107.3 37.8,1109.3 C45.7,1111.3 51.0,1113.4 57.7,1115.9 C64.3,1118.3 72.0,1121.9 77.5,1123.8 C83.0,1125.7 87.3,1126.3 90.5,1127.1 C93.7,1127.9 94.5,1128.1 96.5,1128.6 C98.5,1129.1 100.5,1129.6 102.5,1130.1 C104.5,1130.6 106.5,1131.1 108.5,1131.6 C110.5,1132.2 112.5,1132.9 114.5,1133.6 C116.5,1134.2 118.5,1135.2 120.5,1135.6 C122.5,1136.0 124.7,1135.9 126.5,1136.1 C128.3,1136.4 129.7,1136.6 131.5,1136.8 C133.3,1137.1 135.5,1137.3 137.5,1137.6 C139.5,1137.9 141.5,1138.3 143.5,1138.7 C145.5,1139.1 147.5,1139.6 149.5,1140.0 C151.5,1140.4 153.5,1140.7 155.5,1141.1 C157.5,1141.6 159.5,1142.1 161.5,1142.7 C163.5,1143.2 165.5,1143.8 167.5,1144.4 C169.5,1145.0 171.5,1145.9 173.5,1146.2 C175.5,1146.5 177.5,1146.2 179.5,1146.1 C181.5,1146.1 183.5,1145.9 185.5,1145.7 C187.5,1145.6 189.5,1145.4 191.5,1145.2 C193.5,1145.1 195.7,1144.9 197.5,1144.7 C199.3,1144.5 200.7,1144.3 202.5,1144.1 C204.3,1144.0 206.5,1143.7 208.5,1143.7 C210.5,1143.7 212.5,1144.1 214.5,1144.2 C216.5,1144.2 218.5,1144.2 220.5,1144.2 C222.5,1144.2 224.5,1144.2 226.5,1144.1 C228.5,1144.0 230.5,1143.9 232.5,1143.7 C234.5,1143.5 236.5,1143.1 238.5,1142.7 C240.5,1142.4 242.5,1142.1 244.5,1141.7 C246.5,1141.3 248.5,1141.0 250.5,1140.5 C252.5,1140.1 254.5,1139.5 256.5,1139.0 C258.5,1138.6 260.5,1138.1 262.5,1137.6 C264.5,1137.1 266.5,1136.7 268.5,1136.2 C270.5,1135.7 272.7,1135.3 274.5,1134.9 C276.3,1134.4 277.7,1133.8 279.5,1133.5 C281.3,1133.3 283.5,1133.4 285.5,1133.3 C287.5,1133.2 289.5,1133.2 291.5,1132.9 C293.5,1132.6 295.5,1132.0 297.5,1131.7 C299.5,1131.3 301.5,1131.1 303.5,1130.8 C305.5,1130.4 307.5,1129.9 309.5,1129.6 C311.5,1129.3 313.5,1129.0 315.5,1128.8 C317.5,1128.7 319.5,1128.7 321.5,1128.7 C323.5,1128.7 325.5,1128.7 327.5,1128.7 C329.5,1128.7 331.5,1128.6 333.5,1128.6 C335.5,1128.7 337.5,1128.7 339.5,1128.9 C341.5,1129.2 343.5,1129.8 345.5,1130.2 C347.5,1130.5 349.7,1130.8 351.5,1131.3 C353.3,1131.8 354.7,1132.3 356.5,1133.0 C358.3,1133.6 360.5,1134.5 362.5,1135.2 C364.5,1135.9 366.5,1136.6 368.5,1137.2 C370.5,1137.8 372.5,1138.3 374.5,1139.0 C376.5,1139.6 378.5,1140.4 380.5,1141.2 C382.5,1142.1 384.5,1143.0 386.5,1143.9 C388.5,1144.7 390.5,1145.7 392.5,1146.5 C394.5,1147.3 396.5,1148.0 398.5,1148.7 C400.5,1149.5 402.5,1150.2 404.5,1150.9 C406.5,1151.6 408.5,1152.2 410.5,1152.8 C412.5,1153.4 414.5,1154.0 416.5,1154.6 C418.5,1155.3 420.5,1155.9 422.5,1156.5 C424.5,1157.0 426.7,1157.6 428.5,1158.1 C430.3,1158.5 431.7,1159.1 433.5,1159.4 C435.3,1159.7 437.5,1159.7 439.5,1159.7 C441.5,1159.7 443.5,1159.5 445.5,1159.2 C447.5,1158.9 449.5,1158.2 451.5,1157.9 C453.5,1157.6 455.5,1157.6 457.5,1157.4 C459.5,1157.2 461.5,1157.2 463.5,1156.8 C465.5,1156.5 467.5,1155.8 469.5,1155.3 C471.5,1154.8 473.5,1154.2 475.5,1153.8 C477.5,1153.4 479.5,1153.3 481.5,1153.0 C483.5,1152.7 485.5,1152.5 487.5,1152.2 C489.5,1152.0 491.5,1151.5 493.5,1151.4 C495.5,1151.4 497.7,1151.6 499.5,1151.7 C501.3,1151.7 502.7,1151.6 504.5,1151.8 C506.3,1151.9 508.5,1152.1 510.5,1152.4 C512.5,1152.7 514.5,1153.0 516.5,1153.5 C518.5,1153.9 520.5,1154.7 522.5,1155.3 C524.5,1155.9 526.5,1156.8 528.5,1156.9 C530.5,1157.1 532.5,1156.2 534.5,1156.2 C536.5,1156.1 538.5,1156.4 540.5,1156.4 C542.5,1156.5 544.5,1156.2 546.5,1156.2 C548.5,1156.2 550.5,1156.5 552.5,1156.5 C554.5,1156.6 556.5,1156.5 558.5,1156.4 C560.5,1156.4 562.5,1156.4 564.5,1156.4 C566.5,1156.4 568.5,1156.4 570.5,1156.5 C572.5,1156.6 574.7,1156.9 576.5,1157.0 C578.3,1157.0 579.7,1156.8 581.5,1156.7 C583.3,1156.6 585.5,1156.5 587.5,1156.3 C589.5,1156.1 591.5,1155.7 593.5,1155.4 C595.5,1155.1 597.5,1154.8 599.5,1154.4 C601.5,1154.0 603.5,1153.4 605.5,1153.0 C607.5,1152.6 609.5,1151.8 611.5,1151.8 C613.5,1151.8 615.5,1153.0 617.5,1153.2 C619.5,1153.4 621.5,1153.0 623.5,1153.0 C625.5,1153.0 627.5,1153.2 629.5,1153.2 C631.5,1153.1 633.5,1152.8 635.5,1152.7 C637.5,1152.6 639.5,1152.8 641.5,1152.8 C643.5,1152.7 645.5,1152.6 647.5,1152.5 C649.5,1152.4 651.7,1152.3 653.5,1152.1 C655.3,1151.9 656.7,1151.6 658.5,1151.2 C660.3,1150.9 662.5,1150.4 664.5,1150.1 C666.5,1149.8 668.5,1149.5 670.5,1149.3 C672.5,1149.1 674.5,1149.1 676.5,1149.1 C678.5,1149.0 680.5,1148.9 682.5,1148.9 C684.5,1149.0 686.5,1149.3 688.5,1149.5 C690.5,1149.8 692.5,1150.1 694.5,1150.3 C696.5,1150.6 698.5,1150.7 700.5,1150.9 C702.5,1151.1 704.5,1151.5 706.5,1151.8 C708.5,1152.0 710.5,1151.9 712.5,1152.2 C714.5,1152.6 716.5,1153.4 718.5,1153.8 C720.5,1154.2 722.5,1154.5 724.5,1154.8 C726.5,1155.1 728.7,1155.2 730.5,1155.4 C732.3,1155.6 733.7,1155.6 735.5,1155.9 C737.3,1156.2 739.5,1156.8 741.5,1157.3 C743.5,1157.8 745.5,1158.2 747.5,1158.8 C749.5,1159.3 751.5,1160.2 753.5,1160.5 C755.5,1160.8 757.5,1160.6 759.5,1160.7 C761.5,1160.9 763.5,1161.2 765.5,1161.2 C767.5,1161.3 769.5,1161.2 771.5,1161.1 C773.5,1160.9 775.5,1160.4 777.5,1160.2 C779.5,1159.9 781.5,1159.7 783.5,1159.4 C785.5,1159.1 787.5,1158.7 789.5,1158.5 C791.5,1158.3 793.5,1158.2 795.5,1158.0 C797.5,1157.8 799.7,1157.4 801.5,1157.1 C803.3,1156.9 804.7,1156.7 806.5,1156.5 C808.3,1156.4 810.5,1156.4 812.5,1156.3 C814.5,1156.2 816.5,1156.1 818.5,1155.9 C820.5,1155.7 822.5,1155.3 824.5,1154.9 C826.5,1154.6 828.5,1154.3 830.5,1153.8 C832.5,1153.3 834.5,1152.2 836.5,1151.7 C838.5,1151.2 840.5,1151.2 842.5,1150.8 C844.5,1150.5 846.5,1150.0 848.5,1149.7 C850.5,1149.4 852.5,1149.1 854.5,1148.9 C856.5,1148.7 858.5,1148.8 860.5,1148.6 C862.5,1148.4 864.5,1148.2 866.5,1147.9 C868.5,1147.6 870.5,1147.2 872.5,1146.9 C874.5,1146.6 876.7,1146.4 878.5,1146.2 C880.3,1146.1 881.7,1146.0 883.5,1145.8 C885.3,1145.7 887.5,1145.4 889.5,1145.2 C891.5,1145.0 893.5,1144.8 895.5,1144.7 C897.5,1144.5 899.5,1144.5 901.5,1144.4 C903.5,1144.4 905.5,1144.3 907.5,1144.4 C909.5,1144.4 911.5,1144.4 913.5,1144.5 C915.5,1144.6 917.5,1144.9 919.5,1145.1 C921.5,1145.3 923.5,1145.9 925.5,1145.9 C927.5,1146.0 929.5,1145.6 931.5,1145.4 C933.5,1145.2 935.5,1145.0 937.5,1144.7 C939.5,1144.4 941.5,1143.7 943.5,1143.4 C945.5,1143.2 947.5,1143.4 949.5,1143.2 C951.5,1143.1 953.7,1142.9 955.5,1142.6 C957.3,1142.3 958.7,1141.8 960.5,1141.4 C962.3,1141.0 964.5,1140.4 966.5,1140.2 C968.5,1140.0 970.5,1140.1 972.5,1140.1 C974.5,1140.0 976.5,1139.9 978.5,1139.9 C980.5,1139.8 982.5,1139.8 984.5,1139.6 C986.5,1139.5 988.5,1139.1 990.5,1138.9 C992.5,1138.7 994.5,1138.4 996.5,1138.3 C998.5,1138.1 1000.5,1138.1 1002.5,1137.9 C1004.5,1137.8 1006.5,1137.3 1008.5,1137.2 C1010.5,1137.2 1012.5,1137.4 1014.5,1137.6 C1016.5,1137.9 1018.5,1138.4 1020.5,1138.8 C1022.5,1139.3 1024.5,1140.0 1026.5,1140.5 C1028.5,1140.9 1030.7,1140.9 1032.5,1141.3 C1034.3,1141.7 1035.7,1142.3 1037.5,1142.9 C1039.3,1143.4 1041.5,1144.1 1043.5,1144.7 C1045.5,1145.2 1047.5,1145.9 1049.5,1146.4 C1051.5,1146.8 1053.5,1146.9 1055.5,1147.3 C1057.5,1147.8 1059.5,1148.4 1061.5,1148.8 C1063.5,1149.2 1065.5,1149.5 1067.5,1149.9 C1069.5,1150.3 1071.5,1150.8 1073.5,1151.2 C1075.5,1151.6 1077.5,1151.8 1079.5,1152.1 C1081.5,1152.3 1083.5,1152.3 1085.5,1152.6 C1087.5,1152.8 1089.5,1153.0 1091.5,1153.5 C1093.5,1153.9 1095.5,1154.8 1097.5,1155.1 C1099.5,1155.5 1101.7,1155.4 1103.5,1155.6 C1105.3,1155.8 1106.7,1156.0 1108.5,1156.1 C1110.3,1156.2 1112.5,1156.2 1114.5,1156.1 C1116.5,1156.0 1118.5,1155.8 1120.5,1155.6 C1122.5,1155.4 1124.5,1155.3 1126.5,1155.1 C1128.5,1155.0 1130.5,1154.8 1132.5,1154.7 C1134.5,1154.6 1136.5,1154.7 1138.5,1154.6 C1140.5,1154.5 1142.5,1154.2 1144.5,1154.1 C1146.5,1154.0 1148.5,1154.1 1150.5,1154.0 C1152.5,1154.0 1154.5,1153.9 1156.5,1153.8 C1158.5,1153.7 1160.5,1153.3 1162.5,1153.2 C1164.5,1153.2 1166.5,1153.4 1168.5,1153.4 C1170.5,1153.4 1172.5,1153.4 1174.5,1153.3 C1176.5,1153.1 1178.7,1152.7 1180.5,1152.6 C1182.3,1152.5 1183.7,1152.5 1185.5,1152.6 C1187.3,1152.7 1189.5,1152.8 1191.5,1153.1 C1193.5,1153.4 1195.5,1154.0 1197.5,1154.3 C1199.5,1154.6 1201.5,1154.8 1203.5,1154.9 C1205.5,1155.1 1207.5,1155.2 1209.5,1155.2 C1211.5,1155.3 1213.5,1155.3 1215.5,1155.3 C1217.5,1155.4 1219.5,1155.5 1221.5,1155.4 C1223.5,1155.4 1225.5,1155.2 1227.5,1155.0 C1229.5,1154.9 1231.5,1154.6 1233.5,1154.3 C1235.5,1154.1 1237.5,1153.8 1239.5,1153.6 C1241.5,1153.4 1243.5,1153.4 1245.5,1153.2 C1247.5,1153.1 1249.5,1153.0 1251.5,1152.8 C1253.5,1152.7 1255.7,1152.4 1257.5,1152.1 C1259.3,1151.9 1260.7,1151.6 1262.5,1151.3 C1264.3,1151.0 1266.5,1150.8 1268.5,1150.4 C1270.5,1150.1 1272.5,1149.8 1274.5,1149.3 C1276.5,1148.8 1278.5,1147.9 1280.5,1147.5 C1282.5,1147.1 1284.5,1147.0 1286.5,1146.8 C1288.5,1146.5 1290.5,1146.4 1292.5,1146.0 C1294.5,1145.7 1296.5,1145.3 1298.5,1144.7 C1300.5,1144.1 1302.5,1143.2 1304.5,1142.3 C1306.5,1141.5 1308.5,1140.5 1310.5,1139.7 C1312.5,1138.8 1314.5,1138.1 1316.5,1137.3 C1318.5,1136.4 1320.5,1135.6 1322.5,1134.8 C1324.5,1134.0 1326.5,1133.1 1328.5,1132.3 C1330.5,1131.4 1332.7,1130.5 1334.5,1129.6 C1336.3,1128.8 1337.7,1128.0 1339.5,1127.2 C1341.3,1126.3 1343.5,1125.3 1345.5,1124.3 C1347.5,1123.4 1349.5,1122.6 1351.5,1121.7 C1353.5,1120.8 1355.5,1119.8 1357.5,1118.9 C1359.5,1118.1 1361.5,1117.3 1363.5,1116.5 C1365.5,1115.7 1367.5,1114.8 1369.5,1113.9 C1371.5,1113.1 1373.5,1112.0 1375.5,1111.7 C1377.5,1111.3 1379.5,1111.6 1381.5,1111.8 C1383.5,1112.0 1385.5,1112.3 1387.5,1112.7 C1389.5,1113.1 1391.5,1113.7 1393.5,1114.3 C1395.5,1114.8 1397.5,1115.3 1399.5,1115.8 C1401.5,1116.3 1403.7,1116.6 1405.5,1117.2 C1407.3,1117.9 1408.7,1118.8 1410.5,1119.4 C1412.3,1120.1 1414.5,1120.7 1416.5,1121.3 C1418.5,1122.0 1420.5,1122.7 1422.5,1123.6 C1424.5,1124.5 1426.5,1125.7 1428.5,1126.7 C1430.5,1127.7 1432.5,1128.5 1434.5,1129.6 C1436.5,1130.7 1438.5,1132.2 1440.5,1133.3 C1442.5,1134.4 1444.5,1135.4 1446.5,1136.3 C1448.5,1137.3 1450.5,1138.1 1452.5,1139.0 C1454.5,1140.0 1456.5,1141.4 1458.5,1142.1 C1460.5,1142.8 1462.5,1143.0 1464.5,1143.2 C1466.5,1143.4 1468.5,1143.2 1470.5,1143.2 C1472.5,1143.2 1474.5,1143.2 1476.5,1143.3 C1478.5,1143.3 1480.7,1143.4 1482.5,1143.6 C1484.3,1143.8 1485.7,1144.1 1487.5,1144.3 C1489.3,1144.4 1491.5,1144.6 1493.5,1144.6 C1495.5,1144.7 1497.5,1144.6 1499.5,1144.6 C1501.5,1144.5 1503.5,1144.4 1505.5,1144.4 C1507.5,1144.4 1509.5,1144.5 1511.5,1144.6 C1513.5,1144.6 1515.5,1144.7 1517.5,1144.5 C1519.5,1144.4 1521.5,1143.8 1523.5,1143.7 C1525.5,1143.5 1527.5,1143.5 1529.5,1143.6 C1531.5,1143.6 1533.5,1143.8 1535.5,1144.0 C1537.5,1144.2 1539.5,1144.6 1541.5,1144.8 C1543.5,1145.0 1545.5,1144.9 1547.5,1145.2 C1549.5,1145.6 1551.5,1146.6 1553.5,1147.0 C1555.5,1147.4 1557.7,1147.5 1559.5,1147.7 C1561.3,1147.9 1562.7,1148.2 1564.5,1148.4 C1566.3,1148.6 1568.5,1148.7 1570.5,1148.9 C1572.5,1149.2 1574.5,1149.6 1576.5,1149.8 C1578.5,1150.1 1580.5,1150.4 1582.5,1150.6 C1584.5,1150.9 1586.5,1151.3 1588.5,1151.5 C1590.5,1151.7 1592.5,1151.7 1594.5,1151.8 C1596.5,1151.9 1599.5,1152.2 1600.5,1152.3" fill="none" stroke="#eedc7e" stroke-width="1.3" stroke-linejoin="round" stroke-linecap="round" /><polyline points="7.5,1113.9 13.5,1118.5 19.5,1123.2 25.5,1120.0 31.5,1116.8 37.5,1117.4 43.5,1135.3 49.5,1131.3 54.5,1131.1 60.5,1133.3 66.5,1131.3 72.5,1132.1 78.5,1130.9 84.5,1129.8 90.5,1127.8 96.5,1140.3 102.5,1143.3 108.5,1142.1 114.5,1143.9 120.5,1145.6 126.5,1143.2 131.5,1140.7 137.5,1142.1 143.5,1149.0 149.5,1149.6 155.5,1147.6 161.5,1152.6 167.5,1154.2 173.5,1152.6 179.5,1139.7 185.5,1137.4 191.5,1135.1 197.5,1136.4 202.5,1137.7 208.5,1137.3 214.5,1147.0 220.5,1142.1 226.5,1147.6 232.5,1144.3 238.5,1134.3 244.5,1138.3 250.5,1137.3 256.5,1132.1 262.5,1119.4 268.5,1117.8 274.5,1116.3 279.5,1117.8 285.5,1134.7 291.5,1131.7 297.5,1129.8 303.5,1129.2 309.5,1131.3 315.5,1133.1 321.5,1133.1 327.5,1137.7 333.5,1136.7 339.5,1136.5 345.5,1136.3 351.5,1133.7 356.5,1139.7 362.5,1149.6 368.5,1162.5 374.5,1156.2 380.5,1161.5 386.5,1166.1 392.5,1168.1 398.5,1164.5 404.5,1163.5 410.5,1164.1 416.5,1162.5 422.5,1162.1 428.5,1158.6 433.5,1152.6 439.5,1143.7 445.5,1142.7 451.5,1144.7 457.5,1148.6 463.5,1153.6 469.5,1144.7 475.5,1147.6 481.5,1153.0 487.5,1153.0 493.5,1153.0 499.5,1165.5 504.5,1163.5 510.5,1167.5 516.5,1167.5 522.5,1169.5 528.5,1165.5 534.5,1133.7 540.5,1152.6 546.5,1150.6 552.5,1149.0 558.5,1146.2 564.5,1152.6 570.5,1154.6 576.5,1159.2 581.5,1162.1 587.5,1157.6 593.5,1154.6 599.5,1153.6 605.5,1150.0 611.5,1149.0 617.5,1152.6 623.5,1150.6 629.5,1152.6 635.5,1142.7 641.5,1147.0 647.5,1149.0 653.5,1149.2 658.5,1146.6 664.5,1146.2 670.5,1146.6 676.5,1151.2 682.5,1151.6 688.5,1158.2 694.5,1160.5 700.5,1160.5 706.5,1162.5 712.5,1159.2 718.5,1164.5 724.5,1161.1 730.5,1157.2 735.5,1156.6 741.5,1165.9 747.5,1167.1 753.5,1170.9 759.5,1154.6 765.5,1158.6 771.5,1155.6 777.5,1148.2 783.5,1149.6 789.5,1150.0 795.5,1152.0 801.5,1152.5 806.5,1153.0 812.5,1153.2 818.5,1151.6 824.5,1152.2 830.5,1151.2 836.5,1142.1 842.5,1141.7 848.5,1142.7 854.5,1144.7 860.5,1144.1 866.5,1139.7 872.5,1136.3 878.5,1142.7 883.5,1146.6 889.5,1144.3 895.5,1145.6 901.5,1148.2 907.5,1151.2 913.5,1153.2 919.5,1150.6 925.5,1153.2 931.5,1135.7 937.5,1134.3 943.5,1126.4 949.5,1136.7 955.5,1127.8 960.5,1125.8 966.5,1129.8 972.5,1142.3 978.5,1143.1 984.5,1145.0 990.5,1140.7 996.5,1144.3 1002.5,1146.0 1008.5,1143.7 1014.5,1141.1 1020.5,1151.2 1026.5,1149.0 1032.5,1148.2 1037.5,1150.2 1043.5,1150.6 1049.5,1153.6 1055.5,1156.2 1061.5,1163.5 1067.5,1160.1 1073.5,1159.0 1079.5,1156.6 1085.5,1153.0 1091.5,1156.2 1097.5,1164.1 1103.5,1158.2 1108.5,1155.6 1114.5,1148.6 1120.5,1143.1 1126.5,1144.3 1132.5,1147.6 1138.5,1154.0 1144.5,1157.6 1150.5,1158.6 1156.5,1156.2 1162.5,1148.6 1168.5,1155.2 1174.5,1154.2 1180.5,1154.6 1185.5,1158.2 1191.5,1162.5 1197.5,1166.1 1203.5,1151.6 1209.5,1148.5 1215.5,1148.9 1221.5,1155.5 1227.5,1152.0 1233.5,1148.3 1239.5,1145.9 1245.5,1143.9 1251.5,1149.6 1257.5,1144.5 1262.5,1142.4 1268.5,1146.3 1274.5,1146.3 1280.5,1141.4 1286.5,1141.4 1292.5,1137.8 1298.5,1130.6 1304.5,1122.5 1310.5,1114.7 1316.5,1114.3 1322.5,1111.3 1328.5,1108.6 1334.5,1112.7 1339.5,1109.7 1345.5,1103.1 1351.5,1108.6 1357.5,1108.2 1363.5,1107.2 1369.5,1105.8 1375.5,1105.8 1381.5,1132.7 1387.5,1135.3 1393.5,1136.1 1399.5,1135.3 1405.5,1132.3 1410.5,1139.4 1416.5,1139.4 1422.5,1141.4 1428.5,1145.9 1434.5,1149.6 1440.5,1159.7 1446.5,1150.0 1452.5,1143.5 1458.5,1148.9 1464.5,1148.3 1470.5,1134.7 1476.5,1137.3 1482.5,1139.8 1487.5,1141.8 1493.5,1144.3 1499.5,1138.8 1505.5,1138.4 1511.5,1148.9 1517.5,1148.9 1523.5,1147.5 1529.5,1148.5 1535.5,1150.0 1541.5,1159.7 1547.5,1154.6 1553.5,1159.1 1559.5,1147.5 1564.5,1148.9 1570.5,1149.6 1576.5,1157.1 1582.5,1150.0 1588.5,1151.0 1594.5,1152.4 1600.5,1155.7" fill="none" stroke="#6a56a6" stroke-width="1.3" stroke-linejoin="round" stroke-linecap="round" /></g><line x1="10" x2="2004" y1="1093.5" y2="1093.5" stroke="#e0e3eb" stroke-width="1"/><rect x="9.5" y="26.5" width="1995" height="1182" fill="none" stroke="#e3e5ea" stroke-width="1"/><text x="1947.5" y="35.9" font-family="Liberation Sans, sans-serif" font-size="12" fill="#131722" textLength="35" lengthAdjust="spacingAndGlyphs">3.9000</text><text x="1947.5" y="78.5" font-family="Liberation Sans, sans-serif" font-size="12" fill="#131722" textLength="35" lengthAdjust="spacingAndGlyphs">3.8000</text><text x="1947.5" y="121.1" font-family="Liberation Sans, sans-serif" font-size="12" fill="#131722" textLength="35" lengthAdjust="spacingAndGlyphs">3.7000</text><text x="1947.5" y="163.7" font-family="Liberation Sans, sans-serif" font-size="12" fill="#131722" textLength="35" lengthAdjust="spacingAndGlyphs">3.6000</text><text x="1947.5" y="206.3" font-family="Liberation Sans, sans-serif" font-size="12" fill="#131722" textLength="35" lengthAdjust="spacingAndGlyphs">3.5000</text><text x="1947.5" y="249.0" font-family="Liberation Sans, sans-serif" font-size="12" fill="#131722" textLength="35" lengthAdjust="spacingAndGlyphs">3.4000</text><text x="1947.5" y="291.6" font-family="Liberation Sans, sans-serif" font-size="12" fill="#131722" textLength="35" lengthAdjust="spacingAndGlyphs">3.3000</text><text x="1947.5" y="334.2" font-family="Liberation Sans, sans-serif" font-size="12" fill="#131722" textLength="35" lengthAdjust="spacingAndGlyphs">3.2000</text><text x="1947.5" y="462.0" font-family="Liberation Sans, sans-serif" font-size="12" fill="#131722" textLength="35" lengthAdjust="spacingAndGlyphs">2.9000</text><text x="1947.5" y="504.6" font-family="Liberation Sans, sans-serif" font-size="12" fill="#131722" textLength="35" lengthAdjust="spacingAndGlyphs">2.8000</text><text x="1947.5" y="547.2" font-family="Liberation Sans, sans-serif" font-size="12" fill="#131722" textLength="35" lengthAdjust="spacingAndGlyphs">2.7000</text><text x="1947.5" y="589.8" font-family="Liberation Sans, sans-serif" font-size="12" fill="#131722" textLength="35" lengthAdjust="spacingAndGlyphs">2.6000</text><text x="1947.5" y="632.4" font-family="Liberation Sans, sans-serif" font-size="12" fill="#131722" textLength="35" lengthAdjust="spacingAndGlyphs">2.5000</text><text x="1947.5" y="675.0" font-family="Liberation Sans, sans-serif" font-size="12" fill="#131722" textLength="35" lengthAdjust="spacingAndGlyphs">2.4000</text><text x="1947.5" y="717.7" font-family="Liberation Sans, sans-serif" font-size="12" fill="#131722" textLength="35" lengthAdjust="spacingAndGlyphs">2.3000</text><text x="1947.5" y="760.3" font-family="Liberation Sans, sans-serif" font-size="12" fill="#131722" textLength="35" lengthAdjust="spacingAndGlyphs">2.2000</text><text x="1947.5" y="802.9" font-family="Liberation Sans, sans-serif" font-size="12" fill="#131722" textLength="35" lengthAdjust="spacingAndGlyphs">2.1000</text><text x="1947.5" y="845.5" font-family="Liberation Sans, sans-serif" font-size="12" fill="#131722" textLength="35" lengthAdjust="spacingAndGlyphs">2.0000</text><text x="1947.5" y="888.1" font-family="Liberation Sans, sans-serif" font-size="12" fill="#131722" textLength="35" lengthAdjust="spacingAndGlyphs">1.9000</text><text x="1947.5" y="930.7" font-family="Liberation Sans, sans-serif" font-size="12" fill="#131722" textLength="35" lengthAdjust="spacingAndGlyphs">1.8000</text><text x="1947.5" y="973.3" font-family="Liberation Sans, sans-serif" font-size="12" fill="#131722" textLength="35" lengthAdjust="spacingAndGlyphs">1.7000</text><text x="1947.5" y="1015.9" font-family="Liberation Sans, sans-serif" font-size="12" fill="#131722" textLength="35" lengthAdjust="spacingAndGlyphs">1.6000</text><text x="1947.5" y="1058.5" font-family="Liberation Sans, sans-serif" font-size="12" fill="#131722" textLength="35" lengthAdjust="spacingAndGlyphs">1.5000</text><text x="1947.5" y="1123.0" font-family="Liberation Sans, sans-serif" font-size="12" fill="#131722" textLength="29" lengthAdjust="spacingAndGlyphs">75.00</text><g clip-path="url(#rsiax)"><text x="1947.5" y="1183.0" font-family="Liberation Sans, sans-serif" font-size="12" fill="#131722" textLength="29" lengthAdjust="spacingAndGlyphs">25.00</text></g><path d="M1939,368.2 H1986.0 Q1987.5,368.2 1987.5,369.7 V383.0 Q1987.5,384.5 1986.0,384.5 H1939 Z" fill="#5b9cf6"/><text x="1947.5" y="380.7" font-family="Liberation Sans, sans-serif" font-size="12" fill="#131722" textLength="35" lengthAdjust="spacingAndGlyphs">3.0930</text><path d="M1939,403.4 H1986.0 Q1987.5,403.4 1987.5,404.9 V418.2 Q1987.5,419.7 1986.0,419.7 H1939 Z" fill="#0e7a12"/><text x="1947.5" y="415.8" font-family="Liberation Sans, sans-serif" font-size="12" fill="#ffffff" font-weight="bold" textLength="35" lengthAdjust="spacingAndGlyphs">3.0110</text><path d="M1939,506 H1986.0 Q1987.5,506 1987.5,507.5 V521.0 Q1987.5,522.5 1986.0,522.5 H1939 Z" fill="#fb9a1c"/><text x="1947.5" y="518.5" font-family="Liberation Sans, sans-serif" font-size="12" fill="#131722" textLength="35" lengthAdjust="spacingAndGlyphs">2.7688</text><path d="M1939,621.3 H1986.0 Q1987.5,621.3 1987.5,622.8 V636.1 Q1987.5,637.6 1986.0,637.6 H1939 Z" fill="#000000"/><text x="1947.5" y="633.8" font-family="Liberation Sans, sans-serif" font-size="12" fill="#ffffff" font-weight="bold" textLength="35.8" lengthAdjust="spacingAndGlyphs">2.4999</text><rect x="1881.4" y="458.2" width="56" height="16.3" fill="#f23645" rx="2"/><text x="1885.8" y="470.6" font-family="Liberation Sans, sans-serif" font-size="12" font-weight="bold" fill="#ffffff" textLength="47" lengthAdjust="spacingAndGlyphs">XRPUSDT</text><path d="M1939,458.2 H1996.9 Q1998.4,458.2 1998.4,459.7 V486.7 Q1998.4,488.2 1996.9,488.2 H1939 Z" fill="#f23645"/><text x="1947.5" y="470.6" font-family="Liberation Sans, sans-serif" font-size="12" font-weight="bold" fill="#ffffff" textLength="35" lengthAdjust="spacingAndGlyphs">2.8819</text><text x="1947.5" y="485" font-family="Liberation Sans, sans-serif" font-size="12" font-weight="bold" fill="#fde5e7" textLength="47" lengthAdjust="spacingAndGlyphs">13:48:16</text><path d="M1939,1074 H1990.2 Q1991.7,1074 1991.7,1075.5 V1089.2 Q1991.7,1090.7 1990.2,1090.7 H1939 Z" fill="#e8494f"/><text x="1947.5" y="1086.6" font-family="Liberation Sans, sans-serif" font-size="12" font-weight="bold" fill="#ffffff" textLength="38" lengthAdjust="spacingAndGlyphs">69.56M</text><path d="M1939,1131.1 H1980.5 Q1982,1131.1 1982,1132.6 V1146.1 Q1982,1147.6 1980.5,1147.6 H1939 Z" fill="#fbe83a"/><text x="1947.5" y="1143.7" font-family="Liberation Sans, sans-serif" font-size="12" fill="#131722" textLength="29" lengthAdjust="spacingAndGlyphs">47.15</text><path d="M1939,1148.3 H1980.5 Q1982,1148.3 1982,1149.8 V1163.3 Q1982,1164.8 1980.5,1164.8 H1939 Z" fill="#7e57c2"/><text x="1947.5" y="1160.9" font-family="Liberation Sans, sans-serif" font-size="12" font-weight="bold" fill="#ffffff" textLength="29" lengthAdjust="spacingAndGlyphs">44.24</text><text x="179.1" y="1199" font-family="Liberation Sans, sans-serif" font-size="12.5" fill="#131722" text-anchor="middle" font-weight="bold">2025</text><text x="362.3" y="1199" font-family="Liberation Sans, sans-serif" font-size="12.5" fill="#131722" text-anchor="middle">Feb</text><text x="527.6" y="1199" font-family="Liberation Sans, sans-serif" font-size="12.5" fill="#131722" text-anchor="middle">Mar</text><text x="711.7" y="1199" font-family="Liberation Sans, sans-serif" font-size="12.5" fill="#131722" text-anchor="middle">Apr</text><text x="889.1" y="1199" font-family="Liberation Sans, sans-serif" font-size="12.5" fill="#131722" text-anchor="middle">May</text><text x="1072.8" y="1199" font-family="Liberation Sans, sans-serif" font-size="12.5" fill="#131722" text-anchor="middle">Jun</text><text x="1250.2" y="1199" font-family="Liberation Sans, sans-serif" font-size="12.5" fill="#131722" text-anchor="middle">Jul</text><text x="1433.9" y="1199" font-family="Liberation Sans, sans-serif" font-size="12.5" fill="#131722" text-anchor="middle">Aug</text><text x="1617.1" y="1199" font-family="Liberation Sans, sans-serif" font-size="12.5" fill="#131722" text-anchor="middle">Sep</text><text x="1794.9" y="1199" font-family="Liberation Sans, sans-serif" font-size="12.5" fill="#131722" text-anchor="middle">Oct</text><text x="10.4" y="18.6" font-family="Liberation Sans, sans-serif" font-size="13" fill="#131722" textLength="389.6" lengthAdjust="spacingAndGlyphs">arman_shirinyan created with TradingView.com, Aug 29, 2025 10:11 UTC</text><text x="17.9" y="46" font-family="Liberation Sans, sans-serif" font-size="12.5" fill="#131722" textLength="164.8" lengthAdjust="spacingAndGlyphs">XRP / TetherUS · 1D · BINANCE</text><text x="190.5" y="46" font-family="Liberation Sans, sans-serif" font-size="12.5" fill="#131722" textLength="7.2" lengthAdjust="spacingAndGlyphs">O</text><text x="198.2" y="46" font-family="Liberation Sans, sans-serif" font-size="12.5" fill="#d8505c" textLength="35.7" lengthAdjust="spacingAndGlyphs">2.9665</text><text x="241.9" y="46" font-family="Liberation Sans, sans-serif" font-size="12.5" fill="#131722" textLength="7.1" lengthAdjust="spacingAndGlyphs">H</text><text x="249.6" y="46" font-family="Liberation Sans, sans-serif" font-size="12.5" fill="#d8505c" textLength="35.4" lengthAdjust="spacingAndGlyphs">2.9768</text><text x="292.8" y="46" font-family="Liberation Sans, sans-serif" font-size="12.5" fill="#131722" textLength="5.4" lengthAdjust="spacingAndGlyphs">L</text><text x="298.8" y="46" font-family="Liberation Sans, sans-serif" font-size="12.5" fill="#d8505c" textLength="34.8" lengthAdjust="spacingAndGlyphs">2.8436</text><text x="341.6" y="46" font-family="Liberation Sans, sans-serif" font-size="12.5" fill="#131722" textLength="6.9" lengthAdjust="spacingAndGlyphs">C</text><text x="349.3" y="46" font-family="Liberation Sans, sans-serif" font-size="12.5" fill="#d8505c" textLength="35.0" lengthAdjust="spacingAndGlyphs">2.8819</text><text x="392.4" y="46" font-family="Liberation Sans, sans-serif" font-size="12.5" fill="#d8505c" textLength="40.8" lengthAdjust="spacingAndGlyphs">−0.0846</text><text x="438.6" y="46" font-family="Liberation Sans, sans-serif" font-size="12.5" fill="#d8505c" textLength="43.9" lengthAdjust="spacingAndGlyphs">(−2.85%)</text><g fill="#131722"><path d="M12.1,1231.1 H23.7 V1245.6 H18 V1236.3 H12.1 Z"/><circle cx="28.9" cy="1234.2" r="2.6"/><path d="M35,1231.1 H41.5 L35.8,1245.6 H29.3 Z"/></g><text x="49.3" y="1245.6" font-family="Liberation Sans, sans-serif" font-size="20.5" font-weight="bold" fill="#131722" textLength="120.3" lengthAdjust="spacingAndGlyphs">TradingView</text></svg>
</body></html>
